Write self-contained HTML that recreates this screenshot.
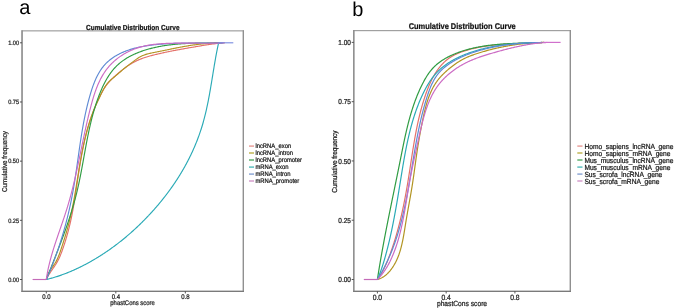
<!DOCTYPE html>
<html><head><meta charset="utf-8"><style>
html,body{margin:0;padding:0;background:#fff;overflow:hidden;}
svg{display:block;will-change:transform;text-rendering:geometricPrecision;}
text{stroke:#222;stroke-width:0.22px;paint-order:stroke;}
.big{stroke:none;}
svg{font-family:"Liberation Sans", sans-serif;}
</style></head><body>
<svg width="675" height="308" viewBox="0 0 675 308">
<rect width="675" height="308" fill="#fff"/>
<text x="0" y="0" font-size="20.00" class="big" fill="#000" transform="translate(19.30,13.90) translate(0,0.00) scale(1,1.000)">a</text>
<text x="0" y="0" font-size="20.00" class="big" fill="#000" transform="translate(352.30,15.70) translate(0,0.00) scale(1,1.000)">b</text>
<path d="M46.30,279.50 L46.66,278.73 L47.04,277.97 L47.43,277.22 L47.84,276.48 L48.26,275.75 L48.68,275.02 L49.12,274.31 L49.57,273.60 L50.02,272.89 L50.49,272.19 L50.95,271.49 L51.42,270.79 L51.89,270.10 L52.37,269.41 L52.84,268.72 L53.31,268.03 L53.78,267.34 L54.25,266.65 L54.72,265.95 L55.17,265.25 L55.62,264.55 L56.07,263.85 L56.50,263.13 L56.92,262.41 L57.33,261.69 L57.73,260.96 L58.12,260.22 L58.50,259.47 L58.86,258.72 L59.22,257.96 L59.56,257.20 L59.90,256.43 L60.23,255.66 L60.55,254.88 L60.86,254.10 L61.17,253.31 L61.47,252.53 L61.76,251.74 L62.05,250.94 L62.34,250.15 L62.62,249.35 L62.90,248.55 L63.17,247.76 L63.44,246.96 L63.71,246.16 L63.98,245.36 L64.24,244.56 L64.50,243.76 L64.76,242.95 L65.02,242.15 L65.27,241.35 L65.52,240.54 L65.76,239.74 L66.01,238.93 L66.25,238.12 L66.49,237.32 L66.72,236.51 L66.95,235.70 L67.18,234.89 L67.41,234.08 L67.64,233.27 L67.86,232.46 L68.07,231.65 L68.29,230.84 L68.50,230.02 L68.71,229.21 L68.92,228.40 L69.13,227.58 L69.33,226.77 L69.53,225.95 L69.72,225.14 L69.92,224.32 L70.11,223.50 L70.30,222.69 L70.48,221.87 L70.66,221.05 L70.84,220.23 L71.02,219.41 L71.20,218.59 L71.37,217.77 L71.54,216.95 L71.71,216.13 L71.87,215.31 L72.04,214.49 L72.20,213.66 L72.36,212.84 L72.51,212.02 L72.67,211.19 L72.82,210.37 L72.97,209.54 L73.12,208.72 L73.27,207.90 L73.42,207.07 L73.56,206.24 L73.70,205.42 L73.84,204.59 L73.98,203.76 L74.12,202.94 L74.26,202.11 L74.39,201.28 L74.53,200.46 L74.66,199.63 L74.79,198.80 L74.92,197.97 L75.05,197.14 L75.18,196.31 L75.31,195.48 L75.44,194.65 L75.56,193.82 L75.69,192.99 L75.81,192.16 L75.94,191.33 L76.06,190.50 L76.19,189.67 L76.31,188.84 L76.43,188.01 L76.56,187.18 L76.68,186.35 L76.80,185.52 L76.92,184.68 L77.04,183.85 L77.16,183.02 L77.29,182.19 L77.41,181.36 L77.53,180.53 L77.65,179.69 L77.78,178.86 L77.90,178.03 L78.02,177.20 L78.15,176.37 L78.27,175.53 L78.40,174.70 L78.52,173.87 L78.65,173.04 L78.78,172.20 L78.90,171.37 L79.03,170.54 L79.16,169.71 L79.29,168.87 L79.42,168.04 L79.56,167.21 L79.69,166.38 L79.83,165.55 L79.96,164.72 L80.10,163.88 L80.24,163.05 L80.38,162.22 L80.52,161.39 L80.66,160.56 L80.81,159.73 L80.95,158.90 L81.10,158.07 L81.25,157.24 L81.40,156.41 L81.55,155.58 L81.70,154.75 L81.86,153.92 L82.02,153.10 L82.17,152.27 L82.33,151.44 L82.50,150.62 L82.66,149.79 L82.83,148.96 L82.99,148.14 L83.16,147.31 L83.34,146.49 L83.51,145.67 L83.68,144.84 L83.86,144.02 L84.04,143.20 L84.23,142.38 L84.41,141.56 L84.60,140.74 L84.79,139.92 L84.98,139.10 L85.17,138.28 L85.37,137.46 L85.57,136.65 L85.77,135.83 L85.97,135.02 L86.18,134.20 L86.39,133.39 L86.60,132.58 L86.81,131.77 L87.03,130.96 L87.25,130.15 L87.47,129.34 L87.70,128.53 L87.92,127.72 L88.16,126.92 L88.39,126.11 L88.63,125.31 L88.87,124.50 L89.11,123.70 L89.36,122.90 L89.60,122.10 L89.86,121.30 L90.11,120.51 L90.37,119.71 L90.63,118.91 L90.90,118.12 L91.17,117.33 L91.44,116.53 L91.72,115.74 L92.00,114.95 L92.28,114.17 L92.57,113.38 L92.85,112.59 L93.15,111.81 L93.45,111.03 L93.75,110.24 L94.05,109.46 L94.36,108.68 L94.67,107.91 L94.99,107.13 L95.31,106.36 L95.63,105.58 L95.96,104.81 L96.29,104.04 L96.63,103.27 L96.97,102.50 L97.31,101.74 L97.66,100.97 L98.01,100.21 L98.37,99.45 L98.73,98.69 L99.09,97.93 L99.46,97.18 L99.84,96.42 L100.21,95.67 L100.60,94.92 L100.98,94.17 L101.38,93.42 L101.77,92.68 L102.18,91.94 L102.59,91.20 L103.01,90.47 L103.43,89.74 L103.86,89.02 L104.31,88.31 L104.76,87.60 L105.22,86.90 L105.69,86.21 L106.17,85.53 L106.66,84.86 L107.17,84.20 L107.68,83.55 L108.21,82.91 L108.76,82.28 L109.31,81.66 L109.88,81.06 L110.45,80.46 L111.04,79.86 L111.63,79.28 L112.23,78.69 L112.83,78.11 L113.44,77.54 L114.06,76.96 L114.68,76.40 L115.31,75.83 L115.94,75.27 L116.58,74.71 L117.21,74.16 L117.85,73.61 L118.50,73.06 L119.14,72.52 L119.79,71.98 L120.44,71.45 L121.10,70.92 L121.75,70.39 L122.41,69.87 L123.07,69.35 L123.74,68.84 L124.41,68.34 L125.08,67.84 L125.75,67.34 L126.43,66.86 L127.11,66.38 L127.80,65.90 L128.49,65.44 L129.18,64.98 L129.88,64.53 L130.59,64.09 L131.30,63.65 L132.01,63.23 L132.73,62.81 L133.45,62.41 L134.18,62.01 L134.92,61.62 L135.66,61.25 L136.40,60.88 L137.16,60.53 L137.92,60.18 L138.68,59.85 L139.45,59.52 L140.22,59.20 L141.00,58.90 L141.79,58.60 L142.58,58.31 L143.37,58.03 L144.17,57.76 L144.97,57.49 L145.77,57.23 L146.57,56.98 L147.38,56.73 L148.20,56.49 L149.01,56.26 L149.83,56.03 L150.64,55.80 L151.46,55.58 L152.28,55.37 L153.11,55.16 L153.93,54.95 L154.75,54.75 L155.57,54.55 L156.40,54.35 L157.22,54.15 L158.04,53.96 L158.87,53.77 L159.69,53.58 L160.51,53.39 L161.33,53.21 L162.15,53.03 L162.98,52.85 L163.80,52.67 L164.62,52.49 L165.44,52.31 L166.26,52.14 L167.08,51.97 L167.90,51.80 L168.72,51.63 L169.54,51.46 L170.36,51.30 L171.18,51.13 L172.00,50.97 L172.82,50.81 L173.64,50.65 L174.46,50.49 L175.28,50.33 L176.10,50.18 L176.92,50.02 L177.74,49.87 L178.56,49.71 L179.38,49.56 L180.21,49.41 L181.03,49.26 L181.85,49.11 L182.67,48.96 L183.49,48.82 L184.32,48.67 L185.14,48.52 L185.96,48.38 L186.79,48.23 L187.61,48.09 L188.44,47.94 L189.26,47.80 L190.09,47.66 L190.91,47.52 L191.74,47.37 L192.56,47.23 L193.39,47.09 L194.22,46.95 L195.05,46.81 L195.88,46.67 L196.71,46.53 L197.54,46.38 L198.37,46.24 L199.20,46.10 L200.03,45.96 L200.86,45.83 L201.70,45.69 L202.53,45.55 L203.36,45.42 L204.20,45.28 L205.03,45.15 L205.86,45.02 L206.70,44.89 L207.53,44.76 L208.37,44.64 L209.20,44.51 L210.04,44.39 L210.87,44.28 L211.70,44.16 L212.54,44.05 L213.37,43.94 L214.20,43.83 L215.04,43.73 L215.87,43.63 L216.70,43.53 L217.54,43.44 L218.37,43.35 L219.20,43.27 L220.03,43.19 L220.86,43.11 L221.69,43.04 L222.52,42.97 L223.35,42.91 L224.17,42.85 L225.00,42.80" fill="none" stroke="#e4716a" stroke-width="1.15" stroke-linejoin="round"/>
<path d="M46.30,279.50 L46.48,278.63 L46.70,277.78 L46.95,276.95 L47.23,276.14 L47.54,275.35 L47.88,274.58 L48.24,273.82 L48.62,273.07 L49.02,272.34 L49.44,271.61 L49.87,270.90 L50.32,270.19 L50.78,269.49 L51.24,268.80 L51.72,268.11 L52.19,267.42 L52.67,266.74 L53.15,266.05 L53.62,265.36 L54.09,264.67 L54.55,263.97 L55.00,263.27 L55.43,262.56 L55.86,261.84 L56.26,261.11 L56.65,260.38 L57.03,259.63 L57.39,258.88 L57.74,258.11 L58.08,257.34 L58.41,256.57 L58.72,255.79 L59.03,255.00 L59.33,254.21 L59.62,253.42 L59.91,252.62 L60.18,251.82 L60.46,251.01 L60.73,250.21 L61.00,249.40 L61.27,248.59 L61.53,247.79 L61.80,246.98 L62.06,246.18 L62.32,245.37 L62.58,244.56 L62.84,243.76 L63.10,242.95 L63.36,242.15 L63.62,241.34 L63.87,240.54 L64.12,239.73 L64.38,238.92 L64.63,238.12 L64.87,237.31 L65.12,236.51 L65.37,235.70 L65.61,234.89 L65.85,234.08 L66.09,233.28 L66.33,232.47 L66.56,231.66 L66.79,230.85 L67.03,230.04 L67.25,229.24 L67.48,228.43 L67.71,227.62 L67.93,226.81 L68.15,226.00 L68.36,225.18 L68.58,224.37 L68.79,223.56 L69.00,222.75 L69.21,221.93 L69.41,221.12 L69.61,220.30 L69.81,219.49 L70.01,218.67 L70.20,217.85 L70.39,217.04 L70.58,216.22 L70.77,215.40 L70.95,214.58 L71.13,213.76 L71.31,212.94 L71.49,212.12 L71.67,211.30 L71.84,210.48 L72.01,209.65 L72.18,208.83 L72.35,208.01 L72.51,207.18 L72.68,206.36 L72.84,205.54 L73.00,204.71 L73.16,203.88 L73.32,203.06 L73.47,202.23 L73.63,201.41 L73.78,200.58 L73.93,199.75 L74.08,198.92 L74.23,198.09 L74.38,197.27 L74.52,196.44 L74.67,195.61 L74.81,194.78 L74.96,193.95 L75.10,193.12 L75.24,192.29 L75.38,191.46 L75.52,190.63 L75.66,189.79 L75.80,188.96 L75.94,188.13 L76.08,187.30 L76.21,186.47 L76.35,185.63 L76.48,184.80 L76.62,183.97 L76.76,183.14 L76.89,182.30 L77.03,181.47 L77.16,180.64 L77.29,179.80 L77.43,178.97 L77.56,178.14 L77.70,177.30 L77.83,176.47 L77.97,175.63 L78.10,174.80 L78.24,173.97 L78.37,173.13 L78.51,172.30 L78.64,171.46 L78.78,170.63 L78.92,169.80 L79.05,168.96 L79.19,168.13 L79.33,167.29 L79.47,166.46 L79.61,165.62 L79.75,164.79 L79.90,163.96 L80.04,163.12 L80.18,162.29 L80.33,161.46 L80.47,160.62 L80.62,159.79 L80.77,158.96 L80.92,158.13 L81.07,157.30 L81.22,156.46 L81.38,155.63 L81.53,154.80 L81.69,153.97 L81.85,153.14 L82.00,152.31 L82.17,151.48 L82.33,150.65 L82.49,149.82 L82.66,149.00 L82.83,148.17 L83.00,147.34 L83.17,146.52 L83.35,145.69 L83.52,144.87 L83.70,144.04 L83.88,143.22 L84.06,142.39 L84.25,141.57 L84.43,140.75 L84.62,139.93 L84.82,139.11 L85.01,138.29 L85.21,137.47 L85.41,136.65 L85.61,135.84 L85.81,135.02 L86.02,134.21 L86.23,133.39 L86.44,132.58 L86.66,131.76 L86.88,130.95 L87.10,130.14 L87.33,129.33 L87.55,128.52 L87.79,127.72 L88.02,126.91 L88.26,126.10 L88.50,125.30 L88.74,124.50 L88.99,123.69 L89.24,122.89 L89.49,122.09 L89.75,121.29 L90.01,120.50 L90.28,119.70 L90.55,118.91 L90.82,118.11 L91.10,117.32 L91.38,116.53 L91.66,115.74 L91.95,114.95 L92.24,114.16 L92.54,113.38 L92.84,112.59 L93.14,111.81 L93.45,111.03 L93.76,110.25 L94.08,109.47 L94.40,108.70 L94.73,107.92 L95.06,107.15 L95.39,106.37 L95.73,105.60 L96.07,104.83 L96.41,104.06 L96.76,103.29 L97.10,102.52 L97.46,101.76 L97.81,100.99 L98.17,100.22 L98.53,99.46 L98.89,98.69 L99.25,97.92 L99.61,97.16 L99.98,96.39 L100.35,95.62 L100.71,94.86 L101.08,94.09 L101.45,93.32 L101.83,92.56 L102.20,91.80 L102.59,91.04 L102.98,90.29 L103.38,89.54 L103.79,88.80 L104.21,88.07 L104.64,87.35 L105.08,86.64 L105.53,85.94 L106.01,85.25 L106.50,84.57 L107.00,83.91 L107.53,83.27 L108.07,82.64 L108.63,82.03 L109.22,81.44 L109.82,80.85 L110.43,80.28 L111.05,79.72 L111.69,79.17 L112.33,78.62 L112.97,78.08 L113.62,77.54 L114.28,77.01 L114.93,76.47 L115.57,75.93 L116.21,75.38 L116.85,74.83 L117.49,74.28 L118.12,73.73 L118.75,73.18 L119.38,72.62 L120.01,72.07 L120.64,71.51 L121.27,70.96 L121.91,70.41 L122.54,69.87 L123.18,69.32 L123.83,68.79 L124.47,68.25 L125.13,67.72 L125.78,67.20 L126.44,66.68 L127.11,66.16 L127.77,65.65 L128.44,65.14 L129.11,64.63 L129.78,64.13 L130.45,63.62 L131.13,63.12 L131.80,62.62 L132.48,62.13 L133.15,61.63 L133.82,61.14 L134.49,60.64 L135.16,60.15 L135.83,59.65 L136.50,59.16 L137.17,58.67 L137.84,58.20 L138.53,57.75 L139.22,57.32 L139.93,56.91 L140.65,56.52 L141.39,56.16 L142.13,55.82 L142.88,55.50 L143.65,55.20 L144.42,54.92 L145.20,54.65 L145.99,54.40 L146.79,54.16 L147.59,53.93 L148.40,53.72 L149.22,53.51 L150.04,53.32 L150.86,53.14 L151.69,52.96 L152.52,52.78 L153.35,52.62 L154.19,52.45 L155.02,52.29 L155.86,52.13 L156.69,51.97 L157.52,51.80 L158.36,51.64 L159.19,51.47 L160.02,51.31 L160.85,51.14 L161.67,50.97 L162.50,50.80 L163.33,50.64 L164.15,50.47 L164.98,50.30 L165.80,50.12 L166.63,49.95 L167.45,49.78 L168.27,49.61 L169.10,49.44 L169.92,49.27 L170.74,49.10 L171.56,48.93 L172.38,48.76 L173.21,48.59 L174.03,48.43 L174.85,48.26 L175.67,48.10 L176.49,47.93 L177.32,47.77 L178.14,47.61 L178.96,47.45 L179.79,47.29 L180.61,47.13 L181.44,46.97 L182.26,46.82 L183.09,46.67 L183.91,46.52 L184.74,46.37 L185.57,46.23 L186.40,46.09 L187.23,45.95 L188.06,45.81 L188.89,45.68 L189.73,45.54 L190.56,45.42 L191.39,45.29 L192.23,45.17 L193.06,45.04 L193.90,44.93 L194.74,44.81 L195.57,44.70 L196.41,44.59 L197.25,44.48 L198.09,44.38 L198.93,44.28 L199.77,44.18 L200.61,44.08 L201.45,43.99 L202.29,43.90 L203.13,43.82 L203.97,43.73 L204.82,43.66 L205.66,43.58 L206.50,43.51 L207.34,43.44 L208.18,43.37 L209.03,43.31 L209.87,43.25 L210.71,43.19 L211.55,43.14 L212.40,43.09 L213.24,43.05 L214.08,43.00 L214.92,42.97 L215.76,42.93 L216.60,42.90 L217.45,42.87 L218.29,42.85 L219.13,42.80" fill="none" stroke="#b29422" stroke-width="1.15" stroke-linejoin="round"/>
<path d="M46.30,279.50 L46.61,278.71 L46.93,277.92 L47.24,277.13 L47.55,276.34 L47.87,275.55 L48.18,274.76 L48.50,273.97 L48.81,273.18 L49.12,272.39 L49.44,271.60 L49.75,270.81 L50.07,270.02 L50.38,269.23 L50.70,268.44 L51.01,267.64 L51.33,266.85 L51.64,266.06 L51.96,265.27 L52.27,264.48 L52.58,263.69 L52.90,262.89 L53.21,262.10 L53.53,261.31 L53.84,260.52 L54.15,259.72 L54.47,258.93 L54.78,258.14 L55.09,257.34 L55.40,256.55 L55.71,255.75 L56.02,254.96 L56.33,254.17 L56.64,253.37 L56.95,252.58 L57.26,251.78 L57.57,250.98 L57.88,250.19 L58.18,249.39 L58.49,248.60 L58.80,247.80 L59.10,247.00 L59.41,246.21 L59.71,245.41 L60.01,244.61 L60.32,243.81 L60.62,243.01 L60.92,242.22 L61.22,241.42 L61.52,240.62 L61.81,239.82 L62.11,239.02 L62.41,238.22 L62.70,237.42 L63.00,236.62 L63.29,235.82 L63.58,235.01 L63.87,234.21 L64.16,233.41 L64.45,232.61 L64.74,231.80 L65.03,231.00 L65.31,230.20 L65.59,229.39 L65.88,228.59 L66.16,227.78 L66.44,226.98 L66.72,226.17 L67.00,225.36 L67.27,224.56 L67.55,223.75 L67.82,222.94 L68.09,222.13 L68.36,221.33 L68.63,220.52 L68.90,219.71 L69.17,218.90 L69.43,218.09 L69.69,217.28 L69.95,216.47 L70.21,215.65 L70.47,214.84 L70.73,214.03 L70.98,213.22 L71.24,212.40 L71.49,211.59 L71.74,210.77 L71.98,209.96 L72.23,209.14 L72.47,208.33 L72.71,207.51 L72.95,206.69 L73.19,205.88 L73.43,205.06 L73.66,204.24 L73.90,203.42 L74.13,202.60 L74.35,201.78 L74.58,200.96 L74.80,200.14 L75.03,199.31 L75.24,198.49 L75.46,197.67 L75.68,196.84 L75.89,196.02 L76.10,195.19 L76.31,194.37 L76.52,193.54 L76.72,192.71 L76.92,191.89 L77.12,191.06 L77.32,190.23 L77.51,189.40 L77.70,188.57 L77.89,187.74 L78.08,186.91 L78.27,186.08 L78.45,185.24 L78.64,184.41 L78.82,183.58 L79.00,182.74 L79.17,181.91 L79.35,181.08 L79.52,180.24 L79.69,179.40 L79.86,178.57 L80.03,177.73 L80.20,176.90 L80.37,176.06 L80.53,175.22 L80.70,174.38 L80.86,173.55 L81.02,172.71 L81.18,171.87 L81.34,171.03 L81.50,170.19 L81.66,169.35 L81.82,168.51 L81.97,167.67 L82.13,166.83 L82.28,165.99 L82.44,165.15 L82.59,164.31 L82.75,163.47 L82.90,162.63 L83.05,161.79 L83.20,160.95 L83.35,160.11 L83.51,159.27 L83.66,158.43 L83.81,157.59 L83.96,156.75 L84.11,155.91 L84.26,155.07 L84.42,154.22 L84.57,153.38 L84.72,152.54 L84.87,151.70 L85.02,150.86 L85.18,150.02 L85.33,149.18 L85.48,148.34 L85.64,147.50 L85.79,146.66 L85.95,145.82 L86.11,144.98 L86.27,144.14 L86.42,143.30 L86.58,142.46 L86.74,141.63 L86.90,140.79 L87.07,139.95 L87.23,139.11 L87.40,138.27 L87.56,137.44 L87.73,136.60 L87.90,135.76 L88.07,134.93 L88.24,134.09 L88.41,133.26 L88.59,132.42 L88.76,131.59 L88.94,130.75 L89.12,129.92 L89.30,129.09 L89.49,128.25 L89.67,127.42 L89.86,126.59 L90.05,125.76 L90.24,124.93 L90.43,124.10 L90.63,123.27 L90.83,122.44 L91.03,121.61 L91.23,120.79 L91.44,119.96 L91.65,119.13 L91.86,118.31 L92.07,117.48 L92.28,116.66 L92.50,115.84 L92.72,115.01 L92.95,114.19 L93.17,113.37 L93.40,112.55 L93.64,111.73 L93.87,110.91 L94.11,110.09 L94.35,109.28 L94.60,108.46 L94.85,107.65 L95.10,106.83 L95.36,106.02 L95.61,105.21 L95.88,104.39 L96.14,103.58 L96.41,102.77 L96.69,101.96 L96.96,101.16 L97.24,100.35 L97.53,99.54 L97.82,98.74 L98.11,97.93 L98.40,97.13 L98.71,96.33 L99.01,95.53 L99.32,94.73 L99.63,93.93 L99.95,93.14 L100.27,92.34 L100.60,91.55 L100.93,90.75 L101.27,89.96 L101.61,89.18 L101.95,88.39 L102.30,87.61 L102.66,86.83 L103.03,86.06 L103.39,85.29 L103.77,84.52 L104.15,83.75 L104.54,82.99 L104.93,82.24 L105.33,81.48 L105.74,80.74 L106.15,80.00 L106.57,79.26 L106.99,78.53 L107.43,77.80 L107.87,77.08 L108.32,76.37 L108.77,75.66 L109.24,74.96 L109.71,74.27 L110.19,73.58 L110.68,72.90 L111.17,72.23 L111.68,71.56 L112.19,70.90 L112.71,70.25 L113.24,69.61 L113.78,68.98 L114.33,68.36 L114.89,67.74 L115.46,67.13 L116.03,66.54 L116.62,65.95 L117.21,65.37 L117.82,64.80 L118.44,64.24 L119.06,63.70 L119.70,63.16 L120.34,62.63 L121.00,62.11 L121.66,61.60 L122.33,61.10 L123.01,60.61 L123.70,60.13 L124.39,59.66 L125.09,59.19 L125.81,58.74 L126.52,58.30 L127.25,57.86 L127.98,57.43 L128.72,57.01 L129.46,56.60 L130.21,56.20 L130.97,55.81 L131.73,55.42 L132.50,55.04 L133.27,54.68 L134.05,54.31 L134.84,53.96 L135.62,53.61 L136.41,53.28 L137.21,52.95 L138.01,52.62 L138.81,52.31 L139.62,52.00 L140.43,51.70 L141.24,51.40 L142.05,51.11 L142.87,50.83 L143.69,50.56 L144.51,50.29 L145.33,50.03 L146.16,49.78 L146.98,49.53 L147.81,49.29 L148.64,49.05 L149.47,48.82 L150.30,48.60 L151.13,48.38 L151.96,48.17 L152.80,47.96 L153.63,47.76 L154.47,47.57 L155.31,47.38 L156.14,47.19 L156.98,47.01 L157.82,46.84 L158.66,46.67 L159.50,46.51 L160.35,46.35 L161.19,46.20 L162.03,46.05 L162.88,45.91 L163.72,45.77 L164.57,45.63 L165.42,45.50 L166.26,45.38 L167.11,45.26 L167.96,45.14 L168.81,45.03 L169.66,44.92 L170.51,44.82 L171.36,44.72 L172.21,44.62 L173.06,44.53 L173.92,44.44 L174.77,44.35 L175.62,44.27 L176.48,44.19 L177.33,44.12 L178.19,44.05 L179.04,43.98 L179.90,43.91 L180.75,43.85 L181.61,43.79 L182.46,43.74 L183.32,43.68 L184.17,43.63 L185.03,43.59 L185.89,43.54 L186.74,43.50 L187.60,43.46 L188.46,43.42 L189.31,43.38 L190.17,43.35 L191.03,43.32 L191.88,43.29 L192.74,43.26 L193.60,43.23 L194.45,43.21 L195.31,43.19 L196.17,43.16 L197.02,43.14 L197.88,43.13 L198.73,43.11 L199.59,43.09 L200.44,43.08 L201.30,43.07 L202.15,43.05 L203.00,43.04 L203.86,43.03 L204.71,43.02 L205.56,43.01 L206.42,43.00 L207.27,43.00 L208.12,42.99 L208.97,42.98 L209.82,42.97 L210.67,42.97 L211.52,42.96 L212.37,42.95 L213.21,42.95 L214.06,42.94 L214.91,42.93 L215.75,42.93 L216.60,42.92 L217.44,42.91 L218.28,42.90 L219.13,42.89 L219.97,42.88 L220.81,42.87 L221.65,42.86 L222.49,42.80" fill="none" stroke="#2f9c42" stroke-width="1.15" stroke-linejoin="round"/>
<path d="M46.30,279.50 L47.06,279.32 L47.82,279.14 L48.58,278.95 L49.34,278.75 L50.09,278.55 L50.85,278.35 L51.60,278.14 L52.35,277.93 L53.10,277.72 L53.85,277.50 L54.60,277.28 L55.34,277.05 L56.09,276.82 L56.83,276.58 L57.57,276.34 L58.31,276.10 L59.05,275.85 L59.79,275.60 L60.52,275.35 L61.26,275.09 L61.99,274.83 L62.72,274.57 L63.45,274.30 L64.18,274.03 L64.91,273.75 L65.63,273.47 L66.36,273.19 L67.08,272.90 L67.80,272.61 L68.52,272.32 L69.24,272.03 L69.96,271.73 L70.68,271.42 L71.39,271.12 L72.11,270.81 L72.82,270.50 L73.53,270.18 L74.24,269.86 L74.95,269.54 L75.66,269.22 L76.37,268.89 L77.07,268.56 L77.78,268.23 L78.48,267.89 L79.18,267.56 L79.88,267.21 L80.58,266.87 L81.28,266.52 L81.98,266.17 L82.68,265.82 L83.37,265.47 L84.06,265.11 L84.76,264.75 L85.45,264.39 L86.14,264.02 L86.83,263.65 L87.51,263.28 L88.20,262.91 L88.88,262.53 L89.57,262.15 L90.25,261.77 L90.93,261.39 L91.61,261.00 L92.29,260.61 L92.97,260.22 L93.64,259.83 L94.32,259.43 L94.99,259.03 L95.66,258.63 L96.33,258.23 L97.00,257.82 L97.67,257.42 L98.34,257.00 L99.00,256.59 L99.66,256.18 L100.33,255.76 L100.99,255.34 L101.65,254.91 L102.31,254.49 L102.96,254.06 L103.62,253.63 L104.28,253.20 L104.93,252.76 L105.58,252.33 L106.23,251.89 L106.88,251.44 L107.53,251.00 L108.17,250.56 L108.82,250.11 L109.46,249.66 L110.10,249.20 L110.74,248.75 L111.38,248.29 L112.02,247.83 L112.66,247.37 L113.29,246.91 L113.93,246.44 L114.56,245.97 L115.19,245.50 L115.82,245.03 L116.45,244.56 L117.07,244.08 L117.70,243.60 L118.32,243.12 L118.94,242.64 L119.56,242.15 L120.18,241.67 L120.80,241.18 L121.41,240.69 L122.03,240.19 L122.64,239.70 L123.25,239.20 L123.86,238.70 L124.47,238.20 L125.08,237.70 L125.68,237.19 L126.29,236.69 L126.89,236.18 L127.49,235.67 L128.09,235.16 L128.69,234.64 L129.28,234.13 L129.88,233.61 L130.47,233.09 L131.06,232.57 L131.65,232.04 L132.24,231.52 L132.83,230.99 L133.41,230.46 L133.99,229.93 L134.58,229.40 L135.16,228.87 L135.73,228.33 L136.31,227.79 L136.89,227.25 L137.46,226.71 L138.03,226.17 L138.60,225.63 L139.17,225.08 L139.74,224.53 L140.30,223.98 L140.87,223.43 L141.43,222.88 L141.99,222.33 L142.55,221.77 L143.11,221.21 L143.66,220.66 L144.22,220.10 L144.77,219.53 L145.32,218.97 L145.87,218.41 L146.41,217.84 L146.96,217.27 L147.50,216.70 L148.04,216.13 L148.59,215.56 L149.12,214.98 L149.66,214.41 L150.20,213.83 L150.73,213.25 L151.26,212.67 L151.79,212.09 L152.32,211.51 L152.84,210.93 L153.37,210.34 L153.89,209.76 L154.41,209.17 L154.93,208.58 L155.45,207.99 L155.96,207.39 L156.48,206.80 L156.99,206.21 L157.50,205.61 L158.01,205.01 L158.51,204.41 L159.02,203.81 L159.52,203.21 L160.02,202.61 L160.52,202.00 L161.01,201.40 L161.51,200.79 L162.00,200.18 L162.49,199.57 L162.98,198.96 L163.47,198.34 L163.95,197.73 L164.44,197.11 L164.92,196.50 L165.40,195.88 L165.87,195.26 L166.35,194.64 L166.82,194.01 L167.29,193.39 L167.76,192.77 L168.23,192.14 L168.69,191.51 L169.15,190.88 L169.62,190.25 L170.07,189.62 L170.53,188.99 L170.98,188.35 L171.44,187.71 L171.89,187.08 L172.33,186.44 L172.78,185.80 L173.22,185.16 L173.67,184.51 L174.10,183.87 L174.54,183.22 L174.98,182.58 L175.41,181.93 L175.84,181.28 L176.27,180.63 L176.69,179.98 L177.12,179.32 L177.54,178.67 L177.96,178.01 L178.38,177.36 L178.79,176.70 L179.20,176.04 L179.61,175.38 L180.02,174.71 L180.43,174.05 L180.83,173.39 L181.23,172.72 L181.63,172.05 L182.03,171.38 L182.42,170.71 L182.81,170.04 L183.20,169.37 L183.59,168.69 L183.97,168.02 L184.36,167.34 L184.74,166.66 L185.11,165.99 L185.49,165.30 L185.86,164.62 L186.23,163.94 L186.60,163.26 L186.96,162.57 L187.33,161.88 L187.69,161.20 L188.04,160.51 L188.40,159.82 L188.75,159.12 L189.10,158.43 L189.45,157.74 L189.80,157.04 L190.14,156.34 L190.48,155.65 L190.82,154.95 L191.15,154.25 L191.48,153.54 L191.81,152.84 L192.14,152.14 L192.47,151.43 L192.79,150.72 L193.11,150.02 L193.43,149.31 L193.74,148.60 L194.05,147.88 L194.36,147.17 L194.67,146.46 L194.97,145.74 L195.27,145.03 L195.57,144.31 L195.87,143.59 L196.16,142.87 L196.45,142.15 L196.74,141.42 L197.02,140.70 L197.30,139.98 L197.58,139.25 L197.86,138.52 L198.13,137.79 L198.40,137.06 L198.67,136.33 L198.94,135.60 L199.20,134.87 L199.46,134.13 L199.72,133.40 L199.97,132.66 L200.22,131.92 L200.47,131.18 L200.72,130.44 L200.96,129.70 L201.20,128.96 L201.44,128.21 L201.67,127.47 L201.90,126.72 L202.13,125.97 L202.36,125.22 L202.58,124.47 L202.80,123.72 L203.02,122.97 L203.23,122.22 L203.44,121.46 L203.65,120.71 L203.85,119.95 L204.06,119.19 L204.26,118.44 L204.46,117.68 L204.65,116.92 L204.84,116.15 L205.03,115.39 L205.22,114.63 L205.41,113.86 L205.59,113.10 L205.77,112.33 L205.95,111.57 L206.13,110.80 L206.30,110.03 L206.48,109.26 L206.65,108.49 L206.82,107.72 L206.98,106.95 L207.15,106.18 L207.31,105.41 L207.47,104.64 L207.63,103.86 L207.79,103.09 L207.95,102.31 L208.10,101.54 L208.26,100.76 L208.41,99.99 L208.56,99.21 L208.71,98.43 L208.85,97.66 L209.00,96.88 L209.14,96.10 L209.29,95.32 L209.43,94.54 L209.57,93.77 L209.71,92.99 L209.85,92.21 L209.99,91.43 L210.12,90.65 L210.26,89.87 L210.40,89.09 L210.53,88.31 L210.66,87.53 L210.80,86.75 L210.93,85.96 L211.06,85.18 L211.19,84.40 L211.32,83.62 L211.45,82.84 L211.58,82.06 L211.71,81.28 L211.84,80.50 L211.97,79.72 L212.09,78.94 L212.22,78.16 L212.35,77.38 L212.48,76.60 L212.60,75.82 L212.73,75.04 L212.86,74.26 L212.98,73.48 L213.11,72.70 L213.24,71.92 L213.36,71.15 L213.49,70.37 L213.62,69.59 L213.75,68.81 L213.88,68.04 L214.01,67.26 L214.13,66.49 L214.26,65.71 L214.39,64.94 L214.53,64.16 L214.66,63.39 L214.79,62.62 L214.92,61.84 L215.05,61.07 L215.19,60.30 L215.32,59.53 L215.46,58.76 L215.60,57.99 L215.73,57.22 L215.87,56.46 L216.01,55.69 L216.15,54.92 L216.30,54.16 L216.44,53.40 L216.58,52.63 L216.73,51.87 L216.88,51.11 L217.03,50.35 L217.18,49.59 L217.33,48.83 L217.48,48.07 L217.64,47.32 L217.79,46.56 L217.95,45.81 L218.11,45.05 L218.27,44.30 L218.43,43.55 L218.60,42.80" fill="none" stroke="#2aaab6" stroke-width="1.15" stroke-linejoin="round"/>
<path d="M46.30,279.50 L46.65,278.70 L47.00,277.89 L47.35,277.09 L47.70,276.28 L48.05,275.48 L48.39,274.67 L48.73,273.87 L49.07,273.06 L49.41,272.25 L49.74,271.44 L50.08,270.63 L50.41,269.82 L50.74,269.00 L51.07,268.19 L51.39,267.38 L51.72,266.56 L52.04,265.75 L52.36,264.93 L52.67,264.12 L52.99,263.30 L53.30,262.48 L53.62,261.66 L53.93,260.84 L54.24,260.02 L54.54,259.20 L54.85,258.38 L55.15,257.56 L55.45,256.73 L55.75,255.91 L56.04,255.08 L56.34,254.26 L56.63,253.43 L56.92,252.61 L57.21,251.78 L57.50,250.95 L57.78,250.12 L58.07,249.29 L58.35,248.46 L58.63,247.63 L58.90,246.80 L59.18,245.97 L59.45,245.14 L59.72,244.31 L59.99,243.47 L60.26,242.64 L60.53,241.80 L60.79,240.97 L61.05,240.13 L61.31,239.29 L61.57,238.46 L61.83,237.62 L62.08,236.78 L62.34,235.94 L62.59,235.10 L62.84,234.26 L63.08,233.42 L63.33,232.58 L63.57,231.74 L63.81,230.90 L64.05,230.06 L64.29,229.21 L64.52,228.37 L64.76,227.53 L64.99,226.68 L65.22,225.84 L65.45,224.99 L65.67,224.14 L65.90,223.30 L66.12,222.45 L66.34,221.60 L66.56,220.76 L66.78,219.91 L66.99,219.06 L67.21,218.21 L67.42,217.36 L67.63,216.51 L67.84,215.66 L68.04,214.81 L68.25,213.96 L68.45,213.10 L68.65,212.25 L68.85,211.40 L69.04,210.55 L69.24,209.69 L69.43,208.84 L69.62,207.99 L69.81,207.13 L70.00,206.28 L70.19,205.42 L70.37,204.56 L70.55,203.71 L70.73,202.85 L70.91,202.00 L71.09,201.14 L71.26,200.28 L71.43,199.42 L71.61,198.57 L71.77,197.71 L71.94,196.85 L72.11,195.99 L72.27,195.13 L72.43,194.27 L72.59,193.41 L72.75,192.55 L72.91,191.69 L73.06,190.83 L73.22,189.97 L73.37,189.11 L73.52,188.25 L73.67,187.39 L73.81,186.52 L73.96,185.66 L74.10,184.80 L74.25,183.94 L74.39,183.07 L74.53,182.21 L74.66,181.35 L74.80,180.48 L74.94,179.62 L75.07,178.76 L75.21,177.89 L75.34,177.03 L75.47,176.16 L75.60,175.30 L75.73,174.44 L75.86,173.57 L75.99,172.71 L76.12,171.84 L76.24,170.98 L76.37,170.11 L76.50,169.25 L76.62,168.38 L76.74,167.51 L76.87,166.65 L76.99,165.78 L77.12,164.92 L77.24,164.05 L77.36,163.18 L77.48,162.32 L77.61,161.45 L77.73,160.58 L77.85,159.72 L77.97,158.85 L78.09,157.99 L78.22,157.12 L78.34,156.25 L78.46,155.39 L78.58,154.52 L78.70,153.65 L78.83,152.79 L78.95,151.92 L79.07,151.05 L79.20,150.19 L79.32,149.32 L79.45,148.45 L79.57,147.58 L79.70,146.72 L79.82,145.85 L79.95,144.98 L80.08,144.12 L80.21,143.25 L80.34,142.39 L80.47,141.52 L80.60,140.65 L80.73,139.79 L80.87,138.92 L81.00,138.05 L81.14,137.19 L81.27,136.32 L81.41,135.46 L81.55,134.59 L81.69,133.72 L81.83,132.86 L81.98,131.99 L82.12,131.13 L82.27,130.26 L82.41,129.40 L82.56,128.53 L82.71,127.67 L82.87,126.80 L83.02,125.94 L83.18,125.08 L83.33,124.21 L83.49,123.35 L83.66,122.48 L83.82,121.62 L83.98,120.76 L84.15,119.89 L84.32,119.03 L84.49,118.17 L84.67,117.31 L84.84,116.44 L85.02,115.58 L85.20,114.72 L85.39,113.86 L85.57,113.00 L85.76,112.14 L85.95,111.28 L86.14,110.42 L86.34,109.56 L86.54,108.70 L86.74,107.84 L86.94,106.98 L87.15,106.12 L87.36,105.26 L87.57,104.40 L87.78,103.54 L88.00,102.68 L88.22,101.83 L88.45,100.97 L88.68,100.11 L88.91,99.26 L89.14,98.40 L89.38,97.54 L89.62,96.69 L89.86,95.83 L90.11,94.98 L90.36,94.13 L90.61,93.27 L90.87,92.42 L91.13,91.57 L91.40,90.72 L91.67,89.87 L91.94,89.02 L92.23,88.18 L92.51,87.34 L92.80,86.50 L93.10,85.66 L93.41,84.83 L93.72,84.00 L94.03,83.18 L94.36,82.36 L94.69,81.54 L95.03,80.73 L95.37,79.93 L95.72,79.12 L96.09,78.33 L96.46,77.54 L96.83,76.76 L97.22,75.98 L97.62,75.21 L98.02,74.45 L98.44,73.70 L98.86,72.95 L99.30,72.21 L99.74,71.48 L100.20,70.76 L100.66,70.05 L101.14,69.34 L101.63,68.65 L102.13,67.96 L102.64,67.29 L103.17,66.62 L103.70,65.97 L104.25,65.32 L104.81,64.69 L105.39,64.07 L105.97,63.46 L106.57,62.86 L107.19,62.27 L107.81,61.70 L108.45,61.14 L109.10,60.58 L109.76,60.04 L110.43,59.51 L111.11,58.99 L111.80,58.48 L112.50,57.99 L113.21,57.50 L113.93,57.02 L114.66,56.56 L115.40,56.10 L116.15,55.66 L116.90,55.23 L117.67,54.80 L118.43,54.39 L119.21,53.99 L119.99,53.60 L120.78,53.21 L121.58,52.84 L122.38,52.48 L123.19,52.13 L124.00,51.79 L124.82,51.45 L125.64,51.13 L126.46,50.82 L127.29,50.51 L128.12,50.22 L128.96,49.93 L129.80,49.66 L130.64,49.39 L131.49,49.13 L132.34,48.88 L133.19,48.63 L134.05,48.40 L134.91,48.17 L135.77,47.95 L136.63,47.74 L137.50,47.53 L138.37,47.34 L139.24,47.15 L140.11,46.96 L140.98,46.79 L141.86,46.61 L142.74,46.45 L143.61,46.29 L144.49,46.14 L145.37,45.99 L146.26,45.85 L147.14,45.72 L148.02,45.59 L148.90,45.46 L149.79,45.34 L150.67,45.22 L151.56,45.11 L152.44,45.01 L153.32,44.90 L154.21,44.80 L155.09,44.71 L155.97,44.62 L156.86,44.53 L157.74,44.44 L158.62,44.36 L159.50,44.29 L160.38,44.21 L161.25,44.14 L162.13,44.07 L163.01,44.00 L163.88,43.94 L164.76,43.88 L165.63,43.82 L166.50,43.77 L167.38,43.71 L168.25,43.66 L169.12,43.62 L169.99,43.57 L170.86,43.53 L171.73,43.49 L172.60,43.45 L173.47,43.41 L174.34,43.38 L175.21,43.35 L176.08,43.32 L176.95,43.29 L177.82,43.26 L178.68,43.24 L179.55,43.22 L180.42,43.20 L181.28,43.18 L182.15,43.16 L183.02,43.14 L183.88,43.13 L184.75,43.11 L185.62,43.10 L186.48,43.09 L187.35,43.08 L188.22,43.07 L189.08,43.06 L189.95,43.05 L190.82,43.05 L191.68,43.04 L192.55,43.03 L193.42,43.03 L194.29,43.03 L195.15,43.02 L196.02,43.02 L196.89,43.02 L197.76,43.02 L198.63,43.02 L199.50,43.01 L200.37,43.01 L201.24,43.01 L202.11,43.01 L202.98,43.01 L203.85,43.01 L204.72,43.01 L205.60,43.01 L206.47,43.01 L207.34,43.00 L208.22,43.00 L209.09,43.00 L209.97,43.00 L210.85,42.99 L211.72,42.99 L212.60,42.98 L213.48,42.98 L214.36,42.97 L215.24,42.96 L216.13,42.95 L217.01,42.94 L217.89,42.93 L218.78,42.92 L219.66,42.91 L220.55,42.89 L221.44,42.88 L222.33,42.86 L223.22,42.80" fill="none" stroke="#5f8ad4" stroke-width="1.15" stroke-linejoin="round"/>
<path d="M46.30,279.50 L46.42,278.65 L46.54,277.80 L46.67,276.95 L46.81,276.10 L46.95,275.25 L47.10,274.40 L47.25,273.55 L47.40,272.71 L47.56,271.86 L47.73,271.02 L47.90,270.17 L48.07,269.33 L48.25,268.49 L48.44,267.65 L48.62,266.81 L48.82,265.97 L49.01,265.13 L49.21,264.29 L49.42,263.45 L49.62,262.61 L49.83,261.77 L50.05,260.94 L50.27,260.10 L50.49,259.26 L50.71,258.43 L50.94,257.59 L51.18,256.76 L51.41,255.93 L51.65,255.09 L51.89,254.26 L52.13,253.43 L52.38,252.60 L52.63,251.77 L52.88,250.94 L53.13,250.10 L53.39,249.27 L53.65,248.44 L53.91,247.62 L54.17,246.79 L54.43,245.96 L54.70,245.13 L54.97,244.30 L55.24,243.47 L55.51,242.65 L55.78,241.82 L56.06,240.99 L56.33,240.17 L56.61,239.34 L56.89,238.51 L57.17,237.69 L57.45,236.86 L57.73,236.04 L58.01,235.21 L58.29,234.38 L58.57,233.56 L58.86,232.73 L59.14,231.91 L59.43,231.08 L59.71,230.26 L60.00,229.43 L60.28,228.61 L60.56,227.79 L60.85,226.96 L61.13,226.14 L61.42,225.31 L61.70,224.49 L61.98,223.66 L62.27,222.84 L62.55,222.01 L62.83,221.19 L63.11,220.36 L63.39,219.54 L63.67,218.71 L63.94,217.89 L64.22,217.06 L64.49,216.24 L64.77,215.41 L65.04,214.59 L65.31,213.76 L65.58,212.93 L65.84,212.11 L66.11,211.28 L66.37,210.46 L66.63,209.63 L66.89,208.80 L67.14,207.97 L67.40,207.15 L67.65,206.32 L67.90,205.49 L68.14,204.66 L68.39,203.83 L68.63,203.00 L68.87,202.17 L69.11,201.34 L69.35,200.51 L69.58,199.68 L69.81,198.85 L70.04,198.02 L70.27,197.19 L70.50,196.36 L70.72,195.53 L70.94,194.69 L71.16,193.86 L71.38,193.03 L71.60,192.20 L71.81,191.36 L72.03,190.53 L72.24,189.70 L72.45,188.86 L72.66,188.03 L72.87,187.19 L73.07,186.36 L73.28,185.52 L73.48,184.69 L73.68,183.85 L73.88,183.02 L74.08,182.18 L74.28,181.34 L74.48,180.51 L74.67,179.67 L74.86,178.83 L75.06,178.00 L75.25,177.16 L75.44,176.32 L75.63,175.48 L75.82,174.64 L76.01,173.80 L76.19,172.96 L76.38,172.13 L76.56,171.29 L76.75,170.45 L76.93,169.61 L77.11,168.77 L77.30,167.93 L77.48,167.08 L77.66,166.24 L77.84,165.40 L78.02,164.56 L78.20,163.72 L78.37,162.88 L78.55,162.03 L78.73,161.19 L78.91,160.35 L79.08,159.51 L79.26,158.66 L79.44,157.82 L79.61,156.98 L79.79,156.13 L79.96,155.29 L80.14,154.44 L80.31,153.60 L80.49,152.75 L80.66,151.91 L80.84,151.06 L81.01,150.22 L81.18,149.37 L81.36,148.53 L81.53,147.68 L81.71,146.83 L81.89,145.99 L82.06,145.14 L82.24,144.29 L82.41,143.45 L82.59,142.60 L82.77,141.75 L82.94,140.90 L83.12,140.05 L83.30,139.20 L83.48,138.36 L83.65,137.51 L83.83,136.66 L84.01,135.81 L84.20,134.96 L84.38,134.11 L84.56,133.26 L84.74,132.41 L84.93,131.56 L85.11,130.71 L85.29,129.86 L85.48,129.01 L85.67,128.15 L85.86,127.30 L86.04,126.45 L86.23,125.60 L86.43,124.75 L86.62,123.89 L86.81,123.04 L87.01,122.19 L87.20,121.34 L87.40,120.48 L87.60,119.63 L87.80,118.78 L88.00,117.92 L88.20,117.07 L88.40,116.21 L88.61,115.36 L88.81,114.51 L89.02,113.65 L89.23,112.80 L89.44,111.94 L89.65,111.09 L89.87,110.23 L90.08,109.37 L90.30,108.52 L90.52,107.66 L90.74,106.81 L90.97,105.95 L91.19,105.10 L91.42,104.24 L91.65,103.39 L91.89,102.54 L92.12,101.68 L92.36,100.83 L92.61,99.98 L92.85,99.13 L93.10,98.29 L93.36,97.44 L93.62,96.60 L93.88,95.76 L94.15,94.92 L94.42,94.09 L94.70,93.25 L94.98,92.42 L95.26,91.59 L95.56,90.77 L95.85,89.95 L96.16,89.13 L96.46,88.31 L96.78,87.50 L97.10,86.70 L97.42,85.89 L97.76,85.09 L98.09,84.30 L98.44,83.51 L98.79,82.72 L99.15,81.94 L99.52,81.16 L99.89,80.39 L100.27,79.62 L100.66,78.86 L101.06,78.11 L101.47,77.36 L101.88,76.61 L102.30,75.87 L102.73,75.14 L103.17,74.41 L103.62,73.69 L104.07,72.98 L104.54,72.27 L105.01,71.57 L105.50,70.88 L105.99,70.20 L106.50,69.52 L107.01,68.85 L107.54,68.18 L108.07,67.53 L108.61,66.88 L109.17,66.24 L109.73,65.61 L110.31,64.98 L110.89,64.37 L111.48,63.76 L112.08,63.16 L112.70,62.57 L113.31,61.99 L113.94,61.41 L114.58,60.85 L115.22,60.29 L115.88,59.74 L116.54,59.20 L117.21,58.67 L117.88,58.14 L118.57,57.63 L119.26,57.13 L119.96,56.63 L120.67,56.14 L121.38,55.66 L122.10,55.20 L122.82,54.74 L123.56,54.29 L124.30,53.85 L125.04,53.42 L125.79,52.99 L126.55,52.58 L127.31,52.18 L128.08,51.79 L128.85,51.40 L129.63,51.03 L130.41,50.67 L131.20,50.32 L131.99,49.97 L132.79,49.64 L133.59,49.32 L134.40,49.01 L135.21,48.70 L136.02,48.41 L136.84,48.13 L137.66,47.86 L138.49,47.60 L139.31,47.35 L140.14,47.11 L140.98,46.88 L141.82,46.66 L142.66,46.44 L143.50,46.24 L144.35,46.04 L145.19,45.86 L146.05,45.68 L146.90,45.51 L147.76,45.35 L148.61,45.19 L149.47,45.04 L150.34,44.90 L151.20,44.77 L152.07,44.65 L152.93,44.53 L153.80,44.42 L154.67,44.31 L155.55,44.21 L156.42,44.12 L157.30,44.03 L158.17,43.95 L159.05,43.87 L159.93,43.80 L160.81,43.73 L161.68,43.67 L162.56,43.61 L163.44,43.56 L164.33,43.51 L165.21,43.47 L166.09,43.42 L166.97,43.39 L167.85,43.35 L168.73,43.32 L169.61,43.30 L170.49,43.27 L171.37,43.25 L172.25,43.23 L173.13,43.21 L174.01,43.20 L174.88,43.18 L175.76,43.17 L176.63,43.16 L177.51,43.15 L178.38,43.14 L179.25,43.14 L180.12,43.13 L180.99,43.13 L181.86,43.13 L182.73,43.13 L183.60,43.13 L184.47,43.13 L185.33,43.13 L186.20,43.13 L187.06,43.13 L187.93,43.14 L188.79,43.14 L189.66,43.14 L190.52,43.15 L191.38,43.15 L192.24,43.16 L193.10,43.16 L193.97,43.17 L194.83,43.17 L195.69,43.18 L196.55,43.18 L197.41,43.19 L198.27,43.19 L199.13,43.20 L199.99,43.20 L200.85,43.21 L201.71,43.21 L202.57,43.21 L203.43,43.21 L204.29,43.21 L205.14,43.21 L206.00,43.21 L206.86,43.21 L207.72,43.21 L208.58,43.20 L209.44,43.20 L210.30,43.19 L211.16,43.18 L212.03,43.17 L212.89,43.16 L213.75,43.15 L214.61,43.13 L215.47,43.12 L216.34,43.10 L217.20,43.08 L218.06,43.06 L218.93,43.03 L219.79,43.01 L220.66,42.98 L221.53,42.95 L222.39,42.91 L223.26,42.88 L224.13,42.80" fill="none" stroke="#cc6cc4" stroke-width="1.15" stroke-linejoin="round"/>
<line x1="32.60" y1="279.50" x2="46.30" y2="279.50" stroke="#c46ab8" stroke-width="1.15"/>
<line x1="218.50" y1="42.80" x2="233.30" y2="42.80" stroke="#7b8ee0" stroke-width="1.15"/>
<rect x="22.05" y="30.85" width="221.30" height="260.50" fill="none" stroke="#a0a0a0" stroke-width="1.2"/>
<line x1="243.35" y1="30.25" x2="243.35" y2="291.95" stroke="#909090" stroke-width="1.2"/>
<line x1="22.05" y1="30.25" x2="22.05" y2="291.95" stroke="#8a8a8a" stroke-width="1.25"/>
<line x1="21.45" y1="291.35" x2="243.95" y2="291.35" stroke="#7a7a7a" stroke-width="1.25"/>
<line x1="19.95" y1="279.50" x2="22.05" y2="279.50" stroke="#444" stroke-width="0.9"/>
<text x="0" y="0" font-size="5.60" text-anchor="end" fill="#222" transform="translate(19.10,281.52) translate(0,0.24) scale(1,1.120)">0.00</text>
<line x1="19.95" y1="220.32" x2="22.05" y2="220.32" stroke="#444" stroke-width="0.9"/>
<text x="0" y="0" font-size="5.60" text-anchor="end" fill="#222" transform="translate(19.10,222.34) translate(0,0.24) scale(1,1.120)">0.25</text>
<line x1="19.95" y1="161.15" x2="22.05" y2="161.15" stroke="#444" stroke-width="0.9"/>
<text x="0" y="0" font-size="5.60" text-anchor="end" fill="#222" transform="translate(19.10,163.17) translate(0,0.24) scale(1,1.120)">0.50</text>
<line x1="19.95" y1="101.98" x2="22.05" y2="101.98" stroke="#444" stroke-width="0.9"/>
<text x="0" y="0" font-size="5.60" text-anchor="end" fill="#222" transform="translate(19.10,103.99) translate(0,0.24) scale(1,1.120)">0.75</text>
<line x1="19.95" y1="42.80" x2="22.05" y2="42.80" stroke="#444" stroke-width="0.9"/>
<text x="0" y="0" font-size="5.60" text-anchor="end" fill="#222" transform="translate(19.10,44.82) translate(0,0.24) scale(1,1.120)">1.00</text>
<line x1="46.30" y1="291.35" x2="46.30" y2="293.45" stroke="#444" stroke-width="0.9"/>
<text x="0" y="0" font-size="6.00" text-anchor="middle" fill="#222" transform="translate(46.30,299.00) translate(0,0.26) scale(1,1.120)">0.0</text>
<line x1="115.82" y1="291.35" x2="115.82" y2="293.45" stroke="#444" stroke-width="0.9"/>
<text x="0" y="0" font-size="6.00" text-anchor="middle" fill="#222" transform="translate(115.82,299.00) translate(0,0.26) scale(1,1.120)">0.4</text>
<line x1="185.34" y1="291.35" x2="185.34" y2="293.45" stroke="#444" stroke-width="0.9"/>
<text x="0" y="0" font-size="6.00" text-anchor="middle" fill="#222" transform="translate(185.34,299.00) translate(0,0.26) scale(1,1.120)">0.8</text>
<text x="0" y="0" font-size="6.50" text-anchor="middle" font-weight="bold" fill="#111" transform="translate(132.75,29.30) translate(0,0.28) scale(1,1.120)">Cumulative Distribution Curve</text>
<text x="0" y="0" font-size="5.95" text-anchor="middle" fill="#222" transform="translate(132.60,305.00) translate(0,0.26) scale(1,1.120)">phastCons score</text>
<text x="0" y="0" font-size="6.30" text-anchor="middle" fill="#222" transform="translate(7.00,161.50) rotate(-90) translate(0,0.27) scale(1,1.120)">Cumulative frequency</text>
<path d="M377.40,279.50 L377.91,278.82 L378.41,278.13 L378.89,277.44 L379.37,276.74 L379.83,276.04 L380.29,275.33 L380.73,274.62 L381.17,273.91 L381.60,273.19 L382.01,272.46 L382.42,271.73 L382.82,271.00 L383.21,270.27 L383.60,269.53 L383.97,268.78 L384.34,268.04 L384.71,267.29 L385.06,266.53 L385.41,265.78 L385.76,265.02 L386.09,264.26 L386.42,263.50 L386.75,262.73 L387.07,261.96 L387.39,261.19 L387.70,260.42 L388.01,259.64 L388.32,258.87 L388.62,258.09 L388.92,257.31 L389.21,256.53 L389.51,255.75 L389.80,254.97 L390.09,254.19 L390.37,253.40 L390.65,252.62 L390.94,251.83 L391.21,251.05 L391.49,250.26 L391.76,249.47 L392.03,248.68 L392.30,247.89 L392.57,247.10 L392.83,246.30 L393.10,245.51 L393.36,244.72 L393.61,243.92 L393.87,243.12 L394.12,242.33 L394.37,241.53 L394.62,240.73 L394.87,239.93 L395.11,239.13 L395.35,238.33 L395.59,237.53 L395.83,236.73 L396.07,235.92 L396.30,235.12 L396.53,234.31 L396.76,233.51 L396.99,232.70 L397.22,231.89 L397.44,231.09 L397.66,230.28 L397.88,229.47 L398.10,228.66 L398.31,227.85 L398.53,227.04 L398.74,226.22 L398.95,225.41 L399.16,224.60 L399.37,223.79 L399.57,222.97 L399.78,222.16 L399.98,221.34 L400.18,220.52 L400.37,219.71 L400.57,218.89 L400.76,218.07 L400.96,217.26 L401.15,216.44 L401.34,215.62 L401.53,214.80 L401.71,213.98 L401.90,213.16 L402.08,212.34 L402.26,211.52 L402.44,210.69 L402.62,209.87 L402.80,209.05 L402.97,208.23 L403.15,207.40 L403.32,206.58 L403.49,205.76 L403.66,204.93 L403.83,204.11 L404.00,203.28 L404.16,202.46 L404.33,201.63 L404.49,200.80 L404.65,199.98 L404.81,199.15 L404.97,198.33 L405.13,197.50 L405.28,196.67 L405.44,195.84 L405.59,195.02 L405.75,194.19 L405.90,193.36 L406.05,192.53 L406.20,191.70 L406.35,190.88 L406.49,190.05 L406.64,189.22 L406.78,188.39 L406.93,187.56 L407.07,186.73 L407.21,185.90 L407.36,185.07 L407.50,184.24 L407.63,183.41 L407.77,182.58 L407.91,181.76 L408.05,180.93 L408.18,180.10 L408.32,179.27 L408.45,178.44 L408.58,177.61 L408.71,176.78 L408.85,175.95 L408.98,175.12 L409.11,174.29 L409.24,173.46 L409.37,172.63 L409.49,171.80 L409.62,170.97 L409.75,170.14 L409.88,169.32 L410.00,168.49 L410.13,167.66 L410.26,166.83 L410.38,166.00 L410.51,165.17 L410.64,164.34 L410.76,163.51 L410.89,162.69 L411.02,161.86 L411.14,161.03 L411.27,160.20 L411.39,159.37 L411.52,158.54 L411.65,157.72 L411.78,156.89 L411.90,156.06 L412.03,155.23 L412.16,154.41 L412.29,153.58 L412.42,152.75 L412.55,151.92 L412.68,151.10 L412.81,150.27 L412.94,149.44 L413.07,148.62 L413.21,147.79 L413.34,146.97 L413.48,146.14 L413.61,145.31 L413.75,144.49 L413.89,143.66 L414.03,142.84 L414.17,142.01 L414.31,141.19 L414.45,140.36 L414.59,139.54 L414.74,138.71 L414.88,137.89 L415.03,137.07 L415.18,136.24 L415.33,135.42 L415.48,134.60 L415.64,133.77 L415.79,132.95 L415.95,132.13 L416.10,131.31 L416.26,130.48 L416.43,129.66 L416.59,128.84 L416.75,128.02 L416.92,127.20 L417.09,126.38 L417.26,125.56 L417.43,124.74 L417.61,123.92 L417.78,123.10 L417.96,122.28 L418.14,121.46 L418.33,120.64 L418.51,119.82 L418.70,119.00 L418.89,118.18 L419.08,117.37 L419.28,116.55 L419.48,115.73 L419.68,114.92 L419.88,114.10 L420.08,113.28 L420.29,112.47 L420.50,111.65 L420.71,110.84 L420.93,110.02 L421.15,109.21 L421.37,108.39 L421.59,107.58 L421.82,106.77 L422.05,105.95 L422.29,105.14 L422.52,104.33 L422.76,103.52 L423.00,102.71 L423.25,101.89 L423.50,101.08 L423.75,100.27 L424.01,99.46 L424.27,98.65 L424.53,97.84 L424.80,97.04 L425.06,96.23 L425.34,95.42 L425.61,94.61 L425.90,93.81 L426.18,93.00 L426.47,92.20 L426.76,91.40 L427.06,90.60 L427.36,89.80 L427.67,89.00 L427.98,88.21 L428.30,87.42 L428.62,86.63 L428.94,85.85 L429.28,85.07 L429.61,84.29 L429.96,83.51 L430.30,82.74 L430.66,81.98 L431.02,81.21 L431.38,80.46 L431.75,79.70 L432.13,78.95 L432.52,78.21 L432.91,77.47 L433.31,76.74 L433.71,76.01 L434.12,75.29 L434.54,74.58 L434.96,73.87 L435.40,73.17 L435.84,72.47 L436.28,71.78 L436.74,71.10 L437.20,70.43 L437.67,69.76 L438.15,69.10 L438.64,68.45 L439.13,67.81 L439.64,67.17 L440.15,66.54 L440.67,65.93 L441.20,65.32 L441.73,64.72 L442.28,64.13 L442.84,63.55 L443.40,62.98 L443.98,62.42 L444.56,61.86 L445.15,61.32 L445.76,60.79 L446.37,60.27 L446.99,59.77 L447.63,59.27 L448.27,58.78 L448.93,58.31 L449.59,57.85 L450.26,57.40 L450.95,56.96 L451.65,56.53 L452.35,56.11 L453.07,55.71 L453.79,55.32 L454.52,54.93 L455.26,54.56 L456.01,54.20 L456.77,53.85 L457.53,53.51 L458.30,53.17 L459.08,52.85 L459.87,52.54 L460.66,52.23 L461.46,51.94 L462.26,51.65 L463.07,51.37 L463.88,51.10 L464.69,50.84 L465.52,50.58 L466.34,50.34 L467.17,50.10 L468.00,49.86 L468.84,49.64 L469.67,49.42 L470.51,49.20 L471.35,48.99 L472.20,48.79 L473.04,48.60 L473.89,48.41 L474.73,48.22 L475.58,48.04 L476.42,47.87 L477.27,47.70 L478.11,47.53 L478.96,47.37 L479.80,47.21 L480.64,47.06 L481.49,46.91 L482.33,46.77 L483.17,46.63 L484.01,46.49 L484.85,46.36 L485.69,46.23 L486.53,46.10 L487.37,45.98 L488.21,45.86 L489.05,45.75 L489.89,45.64 L490.73,45.53 L491.57,45.43 L492.41,45.33 L493.24,45.23 L494.08,45.14 L494.92,45.04 L495.75,44.96 L496.59,44.87 L497.42,44.79 L498.26,44.71 L499.10,44.63 L499.93,44.56 L500.77,44.48 L501.60,44.41 L502.43,44.35 L503.27,44.28 L504.10,44.22 L504.94,44.16 L505.77,44.10 L506.60,44.04 L507.44,43.99 L508.27,43.94 L509.10,43.89 L509.94,43.84 L510.77,43.79 L511.60,43.74 L512.44,43.70 L513.27,43.66 L514.10,43.61 L514.94,43.57 L515.77,43.54 L516.60,43.50 L517.43,43.46 L518.27,43.43 L519.10,43.39 L519.93,43.36 L520.77,43.32 L521.60,43.29 L522.43,43.26 L523.27,43.23 L524.10,43.20 L524.93,43.17 L525.77,43.14 L526.60,43.11 L527.43,43.08 L528.27,43.05 L529.10,43.02 L529.94,43.00 L530.77,42.97 L531.61,42.94 L532.44,42.91 L533.28,42.88 L534.11,42.85 L534.95,42.82 L535.78,42.79 L536.62,42.76 L537.46,42.73 L538.29,42.69 L539.13,42.66 L539.97,42.63 L540.81,42.59 L541.64,42.55 L542.48,42.52 L543.32,42.48 L544.16,42.40" fill="none" stroke="#e4716a" stroke-width="1.20" stroke-linejoin="round"/>
<path d="M377.40,279.50 L378.24,279.24 L379.06,278.96 L379.86,278.65 L380.64,278.31 L381.40,277.94 L382.14,277.55 L382.86,277.13 L383.56,276.69 L384.25,276.23 L384.92,275.74 L385.57,275.24 L386.20,274.72 L386.82,274.18 L387.42,273.62 L388.01,273.04 L388.58,272.46 L389.13,271.85 L389.67,271.24 L390.20,270.61 L390.71,269.97 L391.21,269.32 L391.70,268.66 L392.17,268.00 L392.63,267.33 L393.08,266.65 L393.52,265.96 L393.94,265.27 L394.35,264.57 L394.75,263.86 L395.14,263.15 L395.52,262.44 L395.89,261.71 L396.25,260.98 L396.60,260.25 L396.94,259.51 L397.27,258.77 L397.59,258.02 L397.90,257.26 L398.20,256.50 L398.49,255.74 L398.78,254.97 L399.05,254.19 L399.32,253.42 L399.58,252.63 L399.83,251.85 L400.08,251.06 L400.31,250.26 L400.55,249.47 L400.77,248.67 L400.99,247.86 L401.20,247.06 L401.41,246.25 L401.61,245.44 L401.80,244.62 L401.99,243.80 L402.17,242.98 L402.35,242.16 L402.53,241.34 L402.70,240.51 L402.87,239.68 L403.03,238.85 L403.19,238.02 L403.34,237.19 L403.50,236.36 L403.65,235.52 L403.79,234.68 L403.94,233.85 L404.08,233.01 L404.22,232.17 L404.36,231.34 L404.50,230.50 L404.63,229.66 L404.77,228.82 L404.90,227.98 L405.04,227.14 L405.17,226.31 L405.30,225.47 L405.44,224.64 L405.57,223.80 L405.70,222.97 L405.84,222.13 L405.98,221.30 L406.11,220.47 L406.25,219.65 L406.39,218.82 L406.53,217.99 L406.67,217.17 L406.81,216.34 L406.96,215.52 L407.10,214.70 L407.24,213.88 L407.39,213.06 L407.53,212.24 L407.68,211.42 L407.83,210.61 L407.97,209.79 L408.12,208.98 L408.26,208.16 L408.41,207.35 L408.56,206.53 L408.71,205.72 L408.85,204.91 L409.00,204.10 L409.15,203.28 L409.29,202.47 L409.44,201.66 L409.59,200.85 L409.73,200.04 L409.88,199.23 L410.02,198.42 L410.17,197.61 L410.31,196.80 L410.45,195.99 L410.60,195.18 L410.74,194.36 L410.88,193.55 L411.02,192.74 L411.16,191.93 L411.30,191.12 L411.43,190.31 L411.57,189.49 L411.70,188.68 L411.84,187.87 L411.97,187.05 L412.10,186.24 L412.23,185.42 L412.36,184.60 L412.49,183.79 L412.61,182.97 L412.74,182.15 L412.86,181.33 L412.98,180.51 L413.10,179.69 L413.22,178.87 L413.34,178.05 L413.46,177.23 L413.58,176.41 L413.70,175.58 L413.81,174.76 L413.93,173.94 L414.04,173.12 L414.16,172.29 L414.27,171.47 L414.39,170.65 L414.50,169.82 L414.62,169.00 L414.73,168.17 L414.84,167.35 L414.95,166.53 L415.07,165.70 L415.18,164.88 L415.29,164.05 L415.41,163.23 L415.52,162.41 L415.64,161.58 L415.75,160.76 L415.86,159.94 L415.98,159.11 L416.09,158.29 L416.21,157.47 L416.33,156.65 L416.45,155.83 L416.56,155.01 L416.68,154.19 L416.80,153.37 L416.92,152.55 L417.05,151.73 L417.17,150.91 L417.29,150.09 L417.42,149.27 L417.54,148.46 L417.67,147.64 L417.80,146.83 L417.93,146.01 L418.06,145.20 L418.19,144.38 L418.33,143.57 L418.46,142.75 L418.60,141.94 L418.73,141.13 L418.87,140.32 L419.01,139.50 L419.15,138.69 L419.29,137.88 L419.44,137.07 L419.58,136.25 L419.73,135.44 L419.87,134.63 L420.02,133.82 L420.17,133.00 L420.32,132.19 L420.47,131.38 L420.62,130.57 L420.78,129.75 L420.93,128.94 L421.09,128.12 L421.25,127.31 L421.40,126.50 L421.56,125.68 L421.72,124.86 L421.89,124.05 L422.05,123.23 L422.21,122.41 L422.38,121.59 L422.55,120.78 L422.72,119.96 L422.89,119.14 L423.06,118.32 L423.23,117.49 L423.40,116.67 L423.58,115.85 L423.76,115.03 L423.94,114.21 L424.13,113.39 L424.32,112.57 L424.51,111.75 L424.70,110.94 L424.90,110.12 L425.10,109.30 L425.31,108.49 L425.52,107.68 L425.73,106.87 L425.95,106.06 L426.18,105.25 L426.41,104.44 L426.64,103.64 L426.88,102.84 L427.12,102.04 L427.37,101.25 L427.63,100.46 L427.89,99.67 L428.16,98.88 L428.43,98.10 L428.71,97.32 L429.00,96.54 L429.30,95.77 L429.60,95.00 L429.91,94.23 L430.22,93.47 L430.55,92.71 L430.88,91.96 L431.22,91.21 L431.57,90.47 L431.93,89.73 L432.29,89.00 L432.67,88.27 L433.05,87.55 L433.45,86.83 L433.85,86.12 L434.26,85.41 L434.69,84.71 L435.12,84.02 L435.56,83.33 L436.01,82.65 L436.48,81.97 L436.95,81.30 L437.44,80.64 L437.93,79.99 L438.44,79.34 L438.96,78.70 L439.49,78.06 L440.04,77.44 L440.59,76.82 L441.15,76.20 L441.72,75.60 L442.30,75.00 L442.89,74.40 L443.49,73.82 L444.09,73.23 L444.70,72.66 L445.31,72.09 L445.93,71.52 L446.55,70.96 L447.17,70.40 L447.80,69.85 L448.44,69.31 L449.07,68.77 L449.71,68.24 L450.36,67.71 L451.01,67.19 L451.66,66.68 L452.32,66.17 L452.98,65.67 L453.65,65.17 L454.32,64.68 L454.99,64.20 L455.67,63.73 L456.35,63.26 L457.04,62.80 L457.73,62.35 L458.43,61.91 L459.13,61.47 L459.84,61.04 L460.55,60.62 L461.26,60.21 L461.98,59.81 L462.70,59.42 L463.43,59.03 L464.17,58.65 L464.90,58.29 L465.65,57.93 L466.40,57.58 L467.15,57.24 L467.91,56.91 L468.67,56.59 L469.43,56.28 L470.20,55.97 L470.97,55.67 L471.75,55.38 L472.53,55.10 L473.31,54.82 L474.09,54.54 L474.88,54.27 L475.67,54.01 L476.46,53.74 L477.25,53.49 L478.04,53.23 L478.83,52.98 L479.62,52.73 L480.42,52.48 L481.21,52.24 L482.01,52.00 L482.80,51.76 L483.60,51.53 L484.40,51.30 L485.20,51.07 L486.00,50.84 L486.80,50.62 L487.60,50.40 L488.40,50.19 L489.20,49.97 L490.01,49.76 L490.81,49.56 L491.62,49.35 L492.42,49.15 L493.23,48.95 L494.04,48.76 L494.84,48.56 L495.65,48.38 L496.46,48.19 L497.27,48.01 L498.08,47.83 L498.90,47.65 L499.71,47.47 L500.52,47.30 L501.33,47.13 L502.15,46.97 L502.96,46.81 L503.78,46.65 L504.59,46.49 L505.41,46.34 L506.23,46.19 L507.04,46.04 L507.86,45.89 L508.68,45.75 L509.50,45.61 L510.32,45.48 L511.14,45.34 L511.96,45.21 L512.78,45.09 L513.60,44.96 L514.42,44.84 L515.24,44.72 L516.06,44.61 L516.89,44.50 L517.71,44.39 L518.53,44.28 L519.36,44.18 L520.18,44.07 L521.01,43.98 L521.83,43.88 L522.66,43.79 L523.48,43.70 L524.31,43.61 L525.13,43.53 L525.96,43.45 L526.78,43.37 L527.61,43.30 L528.44,43.23 L529.26,43.16 L530.09,43.09 L530.92,43.03 L531.75,42.97 L532.57,42.91 L533.40,42.86 L534.23,42.81 L535.06,42.76 L535.89,42.71 L536.71,42.67 L537.54,42.63 L538.37,42.59 L539.20,42.56 L540.03,42.53 L540.86,42.50 L541.69,42.47 L542.51,42.45 L543.34,42.40" fill="none" stroke="#b29422" stroke-width="1.20" stroke-linejoin="round"/>
<path d="M377.40,279.50 L377.53,278.66 L377.66,277.82 L377.79,276.98 L377.92,276.14 L378.05,275.30 L378.18,274.46 L378.31,273.62 L378.45,272.78 L378.58,271.95 L378.72,271.11 L378.85,270.27 L378.99,269.43 L379.13,268.59 L379.26,267.76 L379.40,266.92 L379.54,266.08 L379.68,265.25 L379.82,264.41 L379.96,263.57 L380.10,262.74 L380.25,261.90 L380.39,261.06 L380.53,260.23 L380.68,259.39 L380.82,258.56 L380.97,257.72 L381.11,256.89 L381.26,256.05 L381.41,255.22 L381.56,254.39 L381.70,253.55 L381.85,252.72 L382.00,251.88 L382.15,251.05 L382.30,250.22 L382.45,249.38 L382.60,248.55 L382.76,247.72 L382.91,246.88 L383.06,246.05 L383.22,245.22 L383.37,244.39 L383.53,243.55 L383.68,242.72 L383.84,241.89 L383.99,241.06 L384.15,240.23 L384.31,239.39 L384.46,238.56 L384.62,237.73 L384.78,236.90 L384.94,236.07 L385.10,235.24 L385.26,234.41 L385.42,233.57 L385.58,232.74 L385.74,231.91 L385.90,231.08 L386.06,230.25 L386.22,229.42 L386.38,228.59 L386.54,227.76 L386.71,226.93 L386.87,226.10 L387.03,225.27 L387.20,224.44 L387.36,223.61 L387.53,222.78 L387.69,221.95 L387.86,221.12 L388.02,220.29 L388.19,219.46 L388.35,218.63 L388.52,217.80 L388.68,216.97 L388.85,216.14 L389.02,215.32 L389.19,214.49 L389.35,213.66 L389.52,212.83 L389.69,212.00 L389.86,211.17 L390.02,210.34 L390.19,209.51 L390.36,208.68 L390.53,207.85 L390.70,207.02 L390.87,206.19 L391.04,205.37 L391.21,204.54 L391.37,203.71 L391.54,202.88 L391.71,202.05 L391.88,201.22 L392.05,200.39 L392.22,199.56 L392.39,198.73 L392.56,197.90 L392.73,197.08 L392.90,196.25 L393.08,195.42 L393.25,194.59 L393.42,193.76 L393.59,192.93 L393.76,192.10 L393.93,191.27 L394.10,190.44 L394.27,189.61 L394.44,188.78 L394.61,187.95 L394.78,187.12 L394.95,186.30 L395.12,185.47 L395.29,184.64 L395.47,183.81 L395.64,182.98 L395.81,182.15 L395.98,181.32 L396.15,180.49 L396.32,179.66 L396.49,178.83 L396.66,178.00 L396.83,177.17 L397.00,176.34 L397.17,175.51 L397.34,174.68 L397.51,173.84 L397.68,173.01 L397.85,172.18 L398.02,171.35 L398.19,170.52 L398.36,169.69 L398.53,168.86 L398.69,168.03 L398.86,167.20 L399.03,166.37 L399.20,165.53 L399.37,164.70 L399.54,163.87 L399.70,163.04 L399.87,162.21 L400.04,161.37 L400.21,160.54 L400.37,159.71 L400.54,158.88 L400.71,158.04 L400.87,157.21 L401.04,156.38 L401.21,155.54 L401.37,154.71 L401.54,153.88 L401.70,153.04 L401.87,152.21 L402.04,151.38 L402.21,150.55 L402.37,149.71 L402.54,148.88 L402.71,148.05 L402.88,147.22 L403.05,146.38 L403.22,145.55 L403.39,144.72 L403.57,143.89 L403.74,143.05 L403.91,142.22 L404.09,141.39 L404.26,140.56 L404.44,139.73 L404.62,138.90 L404.80,138.07 L404.98,137.24 L405.16,136.41 L405.34,135.58 L405.53,134.75 L405.71,133.93 L405.90,133.10 L406.09,132.27 L406.28,131.45 L406.47,130.62 L406.66,129.79 L406.86,128.97 L407.06,128.14 L407.26,127.32 L407.46,126.50 L407.66,125.67 L407.87,124.85 L408.07,124.03 L408.28,123.21 L408.49,122.39 L408.71,121.57 L408.92,120.75 L409.14,119.93 L409.36,119.12 L409.59,118.30 L409.81,117.49 L410.04,116.67 L410.27,115.86 L410.51,115.04 L410.74,114.23 L410.98,113.42 L411.22,112.61 L411.47,111.80 L411.72,110.99 L411.97,110.18 L412.22,109.38 L412.48,108.57 L412.74,107.77 L413.01,106.96 L413.27,106.16 L413.54,105.36 L413.82,104.56 L414.09,103.76 L414.38,102.96 L414.66,102.17 L414.95,101.37 L415.24,100.57 L415.54,99.78 L415.84,98.99 L416.14,98.20 L416.45,97.41 L416.76,96.62 L417.07,95.83 L417.39,95.05 L417.71,94.26 L418.04,93.48 L418.37,92.70 L418.71,91.92 L419.05,91.14 L419.39,90.36 L419.74,89.59 L420.10,88.81 L420.46,88.04 L420.82,87.27 L421.19,86.50 L421.56,85.73 L421.94,84.96 L422.32,84.20 L422.70,83.43 L423.10,82.67 L423.50,81.91 L423.90,81.16 L424.31,80.41 L424.73,79.66 L425.15,78.92 L425.58,78.18 L426.02,77.45 L426.46,76.73 L426.91,76.01 L427.37,75.29 L427.84,74.59 L428.32,73.89 L428.81,73.20 L429.30,72.51 L429.80,71.84 L430.32,71.17 L430.84,70.52 L431.37,69.87 L431.91,69.24 L432.47,68.61 L433.03,68.00 L433.61,67.39 L434.19,66.80 L434.79,66.22 L435.39,65.65 L436.01,65.10 L436.63,64.55 L437.27,64.01 L437.91,63.49 L438.57,62.97 L439.23,62.46 L439.90,61.97 L440.57,61.48 L441.26,61.01 L441.95,60.54 L442.65,60.08 L443.36,59.64 L444.08,59.20 L444.80,58.77 L445.52,58.35 L446.26,57.94 L446.99,57.53 L447.74,57.14 L448.49,56.75 L449.24,56.37 L450.00,56.00 L450.76,55.64 L451.53,55.28 L452.30,54.93 L453.08,54.59 L453.85,54.26 L454.63,53.93 L455.42,53.61 L456.20,53.30 L456.99,52.99 L457.78,52.69 L458.57,52.40 L459.37,52.11 L460.16,51.83 L460.96,51.55 L461.76,51.29 L462.56,51.02 L463.37,50.77 L464.18,50.51 L464.98,50.27 L465.79,50.03 L466.61,49.80 L467.42,49.57 L468.23,49.34 L469.05,49.13 L469.87,48.91 L470.69,48.71 L471.51,48.51 L472.34,48.31 L473.16,48.12 L473.99,47.93 L474.82,47.75 L475.64,47.57 L476.48,47.40 L477.31,47.24 L478.14,47.07 L478.98,46.91 L479.81,46.76 L480.65,46.61 L481.49,46.47 L482.33,46.33 L483.17,46.19 L484.01,46.06 L484.85,45.93 L485.69,45.80 L486.54,45.68 L487.38,45.57 L488.23,45.45 L489.07,45.34 L489.92,45.24 L490.77,45.13 L491.62,45.04 L492.47,44.94 L493.32,44.85 L494.17,44.76 L495.02,44.67 L495.88,44.59 L496.73,44.51 L497.58,44.43 L498.43,44.36 L499.29,44.28 L500.14,44.22 L501.00,44.15 L501.85,44.09 L502.71,44.02 L503.56,43.96 L504.42,43.91 L505.27,43.85 L506.13,43.80 L506.99,43.75 L507.84,43.70 L508.70,43.65 L509.55,43.61 L510.41,43.57 L511.27,43.53 L512.12,43.49 L512.98,43.45 L513.83,43.41 L514.69,43.38 L515.54,43.34 L516.40,43.31 L517.25,43.28 L518.10,43.25 L518.96,43.22 L519.81,43.19 L520.66,43.16 L521.51,43.13 L522.37,43.11 L523.22,43.08 L524.07,43.06 L524.91,43.03 L525.76,43.01 L526.61,42.99 L527.46,42.96 L528.30,42.94 L529.15,42.92 L529.99,42.89 L530.84,42.87 L531.68,42.85 L532.52,42.82 L533.36,42.80 L534.20,42.77 L535.04,42.75 L535.88,42.73 L536.71,42.70 L537.55,42.67 L538.38,42.65 L539.21,42.62 L540.04,42.59 L540.87,42.56 L541.70,42.53 L542.53,42.50 L543.35,42.47 L544.18,42.40" fill="none" stroke="#2f9c42" stroke-width="1.20" stroke-linejoin="round"/>
<path d="M377.40,279.50 L377.73,278.73 L378.06,277.96 L378.39,277.19 L378.70,276.42 L379.01,275.64 L379.32,274.86 L379.62,274.08 L379.92,273.30 L380.21,272.52 L380.50,271.74 L380.78,270.95 L381.06,270.16 L381.34,269.38 L381.61,268.59 L381.88,267.80 L382.14,267.00 L382.40,266.21 L382.65,265.42 L382.91,264.62 L383.15,263.83 L383.40,263.03 L383.64,262.23 L383.88,261.43 L384.12,260.63 L384.35,259.83 L384.59,259.03 L384.82,258.23 L385.04,257.43 L385.27,256.63 L385.49,255.83 L385.71,255.03 L385.93,254.22 L386.15,253.42 L386.36,252.62 L386.58,251.81 L386.79,251.01 L387.00,250.21 L387.21,249.40 L387.41,248.60 L387.62,247.79 L387.82,246.99 L388.02,246.18 L388.22,245.37 L388.42,244.57 L388.62,243.76 L388.81,242.95 L389.00,242.15 L389.20,241.34 L389.39,240.53 L389.57,239.72 L389.76,238.92 L389.95,238.11 L390.13,237.30 L390.31,236.49 L390.49,235.68 L390.67,234.87 L390.85,234.06 L391.03,233.25 L391.21,232.44 L391.38,231.63 L391.55,230.82 L391.72,230.01 L391.89,229.20 L392.06,228.38 L392.23,227.57 L392.40,226.76 L392.56,225.95 L392.73,225.13 L392.89,224.32 L393.05,223.51 L393.22,222.69 L393.38,221.88 L393.53,221.06 L393.69,220.25 L393.85,219.44 L394.01,218.62 L394.16,217.81 L394.31,216.99 L394.47,216.17 L394.62,215.36 L394.77,214.54 L394.92,213.73 L395.07,212.91 L395.22,212.09 L395.37,211.28 L395.51,210.46 L395.66,209.64 L395.81,208.82 L395.95,208.00 L396.10,207.19 L396.24,206.37 L396.38,205.55 L396.53,204.73 L396.67,203.91 L396.81,203.09 L396.95,202.27 L397.09,201.45 L397.23,200.63 L397.37,199.81 L397.51,198.99 L397.64,198.17 L397.78,197.35 L397.92,196.53 L398.05,195.71 L398.19,194.89 L398.33,194.06 L398.46,193.24 L398.60,192.42 L398.73,191.60 L398.87,190.77 L399.00,189.95 L399.14,189.13 L399.27,188.30 L399.40,187.48 L399.54,186.66 L399.67,185.83 L399.80,185.01 L399.94,184.19 L400.07,183.36 L400.20,182.54 L400.34,181.71 L400.47,180.89 L400.60,180.06 L400.74,179.24 L400.87,178.41 L401.00,177.58 L401.14,176.76 L401.27,175.93 L401.40,175.11 L401.54,174.28 L401.67,173.45 L401.81,172.63 L401.94,171.80 L402.08,170.98 L402.21,170.15 L402.35,169.32 L402.48,168.50 L402.62,167.67 L402.76,166.84 L402.90,166.02 L403.04,165.19 L403.18,164.37 L403.32,163.54 L403.46,162.71 L403.60,161.89 L403.74,161.06 L403.89,160.24 L404.03,159.41 L404.18,158.59 L404.33,157.76 L404.47,156.94 L404.62,156.11 L404.77,155.29 L404.93,154.47 L405.08,153.64 L405.23,152.82 L405.39,152.00 L405.54,151.18 L405.70,150.35 L405.86,149.53 L406.02,148.71 L406.19,147.89 L406.35,147.07 L406.51,146.25 L406.68,145.43 L406.85,144.61 L407.02,143.79 L407.19,142.98 L407.37,142.16 L407.54,141.34 L407.72,140.53 L407.90,139.71 L408.08,138.89 L408.27,138.08 L408.45,137.27 L408.64,136.45 L408.83,135.64 L409.02,134.83 L409.21,134.02 L409.41,133.21 L409.61,132.40 L409.81,131.59 L410.01,130.78 L410.22,129.97 L410.42,129.17 L410.63,128.36 L410.85,127.56 L411.06,126.75 L411.28,125.95 L411.50,125.14 L411.72,124.34 L411.95,123.54 L412.17,122.74 L412.41,121.94 L412.64,121.15 L412.88,120.35 L413.11,119.55 L413.36,118.76 L413.60,117.96 L413.85,117.17 L414.10,116.38 L414.36,115.59 L414.61,114.80 L414.87,114.01 L415.14,113.22 L415.40,112.44 L415.67,111.65 L415.95,110.87 L416.22,110.08 L416.50,109.30 L416.79,108.52 L417.07,107.74 L417.36,106.96 L417.66,106.19 L417.96,105.41 L418.26,104.63 L418.56,103.86 L418.87,103.09 L419.18,102.32 L419.50,101.55 L419.82,100.78 L420.14,100.02 L420.47,99.25 L420.80,98.49 L421.14,97.73 L421.48,96.96 L421.82,96.20 L422.17,95.45 L422.52,94.69 L422.87,93.94 L423.23,93.19 L423.60,92.44 L423.97,91.69 L424.35,90.95 L424.73,90.20 L425.11,89.47 L425.50,88.73 L425.90,88.00 L426.30,87.27 L426.71,86.55 L427.12,85.83 L427.54,85.11 L427.97,84.40 L428.40,83.69 L428.83,82.99 L429.28,82.29 L429.73,81.60 L430.19,80.91 L430.65,80.23 L431.12,79.56 L431.60,78.89 L432.09,78.22 L432.58,77.56 L433.08,76.91 L433.59,76.26 L434.11,75.63 L434.63,74.99 L435.16,74.37 L435.70,73.75 L436.25,73.14 L436.81,72.54 L437.37,71.94 L437.95,71.35 L438.53,70.77 L439.12,70.20 L439.72,69.64 L440.33,69.08 L440.94,68.54 L441.57,68.00 L442.20,67.46 L442.84,66.94 L443.48,66.42 L444.13,65.92 L444.80,65.42 L445.46,64.92 L446.14,64.44 L446.82,63.96 L447.51,63.50 L448.20,63.04 L448.90,62.58 L449.61,62.14 L450.32,61.70 L451.04,61.27 L451.76,60.84 L452.49,60.43 L453.22,60.02 L453.96,59.62 L454.70,59.22 L455.45,58.83 L456.20,58.45 L456.95,58.07 L457.71,57.70 L458.48,57.34 L459.24,56.98 L460.01,56.63 L460.78,56.29 L461.55,55.95 L462.33,55.62 L463.11,55.29 L463.89,54.97 L464.67,54.65 L465.46,54.34 L466.24,54.04 L467.03,53.74 L467.82,53.44 L468.61,53.15 L469.40,52.87 L470.19,52.59 L470.99,52.31 L471.78,52.04 L472.57,51.78 L473.37,51.52 L474.17,51.27 L474.97,51.02 L475.77,50.77 L476.57,50.53 L477.37,50.29 L478.17,50.06 L478.98,49.84 L479.78,49.61 L480.59,49.40 L481.39,49.18 L482.20,48.97 L483.01,48.77 L483.82,48.57 L484.63,48.37 L485.44,48.18 L486.25,47.99 L487.07,47.81 L487.88,47.63 L488.69,47.46 L489.51,47.28 L490.32,47.12 L491.14,46.95 L491.96,46.79 L492.78,46.64 L493.59,46.48 L494.41,46.33 L495.23,46.19 L496.05,46.05 L496.88,45.91 L497.70,45.78 L498.52,45.64 L499.34,45.52 L500.17,45.39 L500.99,45.27 L501.82,45.15 L502.64,45.04 L503.47,44.93 L504.29,44.82 L505.12,44.72 L505.95,44.61 L506.77,44.51 L507.60,44.42 L508.43,44.32 L509.26,44.23 L510.09,44.15 L510.92,44.06 L511.75,43.98 L512.58,43.90 L513.41,43.82 L514.24,43.75 L515.07,43.68 L515.90,43.61 L516.73,43.54 L517.56,43.48 L518.39,43.42 L519.22,43.36 L520.06,43.30 L520.89,43.24 L521.72,43.19 L522.55,43.14 L523.38,43.09 L524.22,43.04 L525.05,43.00 L525.88,42.96 L526.71,42.92 L527.55,42.88 L528.38,42.84 L529.21,42.80 L530.04,42.77 L530.88,42.74 L531.71,42.71 L532.54,42.68 L533.37,42.65 L534.20,42.62 L535.04,42.60 L535.87,42.58 L536.70,42.55 L537.53,42.53 L538.36,42.52 L539.19,42.50 L540.02,42.48 L540.85,42.46 L541.68,42.40" fill="none" stroke="#2aaab6" stroke-width="1.20" stroke-linejoin="round"/>
<path d="M377.40,279.50 L377.85,278.78 L378.29,278.06 L378.73,277.33 L379.17,276.61 L379.60,275.88 L380.03,275.16 L380.46,274.43 L380.88,273.70 L381.29,272.97 L381.70,272.23 L382.11,271.50 L382.51,270.77 L382.91,270.03 L383.31,269.29 L383.70,268.55 L384.09,267.81 L384.47,267.07 L384.85,266.33 L385.22,265.58 L385.60,264.84 L385.96,264.09 L386.33,263.35 L386.69,262.60 L387.05,261.85 L387.40,261.10 L387.75,260.35 L388.09,259.59 L388.44,258.84 L388.78,258.08 L389.11,257.33 L389.44,256.57 L389.77,255.81 L390.10,255.05 L390.42,254.29 L390.74,253.53 L391.05,252.77 L391.36,252.00 L391.67,251.24 L391.97,250.47 L392.28,249.70 L392.57,248.94 L392.87,248.17 L393.16,247.40 L393.45,246.63 L393.74,245.86 L394.02,245.08 L394.30,244.31 L394.58,243.53 L394.85,242.76 L395.12,241.98 L395.39,241.21 L395.66,240.43 L395.92,239.65 L396.18,238.87 L396.44,238.09 L396.69,237.31 L396.94,236.52 L397.19,235.74 L397.44,234.95 L397.68,234.17 L397.93,233.38 L398.17,232.60 L398.40,231.81 L398.64,231.02 L398.87,230.23 L399.10,229.44 L399.32,228.65 L399.55,227.86 L399.77,227.07 L399.99,226.28 L400.21,225.48 L400.42,224.69 L400.64,223.89 L400.85,223.10 L401.06,222.30 L401.26,221.51 L401.47,220.71 L401.67,219.91 L401.87,219.11 L402.07,218.31 L402.27,217.51 L402.46,216.71 L402.65,215.91 L402.84,215.11 L403.03,214.31 L403.22,213.50 L403.41,212.70 L403.59,211.89 L403.77,211.09 L403.95,210.28 L404.13,209.48 L404.31,208.67 L404.48,207.87 L404.66,207.06 L404.83,206.25 L405.00,205.44 L405.17,204.63 L405.34,203.82 L405.51,203.01 L405.67,202.20 L405.84,201.39 L406.00,200.58 L406.16,199.77 L406.32,198.96 L406.48,198.15 L406.64,197.34 L406.80,196.52 L406.95,195.71 L407.11,194.90 L407.26,194.08 L407.41,193.27 L407.56,192.45 L407.71,191.64 L407.86,190.82 L408.01,190.01 L408.16,189.19 L408.31,188.37 L408.45,187.56 L408.60,186.74 L408.74,185.92 L408.89,185.11 L409.03,184.29 L409.17,183.47 L409.32,182.65 L409.46,181.84 L409.60,181.02 L409.74,180.20 L409.88,179.38 L410.02,178.56 L410.16,177.74 L410.30,176.92 L410.43,176.10 L410.57,175.29 L410.71,174.47 L410.85,173.65 L410.98,172.83 L411.12,172.01 L411.26,171.19 L411.39,170.37 L411.53,169.55 L411.67,168.73 L411.80,167.91 L411.94,167.09 L412.07,166.27 L412.21,165.45 L412.35,164.63 L412.48,163.81 L412.62,162.98 L412.76,162.16 L412.89,161.34 L413.03,160.52 L413.17,159.70 L413.30,158.88 L413.44,158.06 L413.58,157.24 L413.72,156.42 L413.86,155.60 L414.00,154.79 L414.13,153.97 L414.27,153.15 L414.42,152.33 L414.56,151.51 L414.70,150.69 L414.84,149.87 L414.98,149.05 L415.13,148.23 L415.27,147.41 L415.42,146.60 L415.56,145.78 L415.71,144.96 L415.86,144.14 L416.00,143.33 L416.15,142.51 L416.30,141.69 L416.45,140.88 L416.61,140.06 L416.76,139.24 L416.91,138.43 L417.07,137.61 L417.23,136.80 L417.38,135.98 L417.54,135.17 L417.70,134.36 L417.86,133.54 L418.02,132.73 L418.19,131.92 L418.35,131.10 L418.52,130.29 L418.69,129.48 L418.85,128.67 L419.02,127.86 L419.20,127.05 L419.37,126.24 L419.54,125.43 L419.72,124.62 L419.90,123.81 L420.08,123.00 L420.26,122.19 L420.44,121.39 L420.63,120.58 L420.81,119.77 L421.00,118.97 L421.19,118.16 L421.38,117.36 L421.58,116.55 L421.77,115.75 L421.97,114.95 L422.17,114.15 L422.37,113.34 L422.58,112.54 L422.78,111.74 L422.99,110.94 L423.20,110.14 L423.41,109.34 L423.62,108.55 L423.84,107.75 L424.06,106.95 L424.28,106.16 L424.50,105.36 L424.73,104.56 L424.96,103.77 L425.19,102.98 L425.42,102.18 L425.65,101.39 L425.89,100.60 L426.13,99.81 L426.37,99.02 L426.62,98.23 L426.87,97.44 L427.12,96.66 L427.37,95.87 L427.63,95.09 L427.89,94.30 L428.15,93.52 L428.42,92.74 L428.69,91.96 L428.97,91.19 L429.25,90.41 L429.54,89.64 L429.83,88.88 L430.13,88.11 L430.44,87.35 L430.75,86.60 L431.08,85.85 L431.40,85.10 L431.74,84.36 L432.09,83.62 L432.44,82.89 L432.80,82.16 L433.18,81.44 L433.56,80.73 L433.95,80.02 L434.35,79.32 L434.77,78.62 L435.19,77.93 L435.63,77.25 L436.07,76.58 L436.53,75.92 L437.01,75.26 L437.49,74.61 L437.99,73.97 L438.50,73.34 L439.03,72.72 L439.57,72.10 L440.12,71.50 L440.69,70.91 L441.27,70.32 L441.86,69.75 L442.47,69.18 L443.09,68.62 L443.71,68.08 L444.35,67.54 L445.00,67.01 L445.65,66.49 L446.31,65.98 L446.98,65.47 L447.66,64.98 L448.34,64.49 L449.03,64.01 L449.72,63.54 L450.42,63.08 L451.13,62.63 L451.84,62.18 L452.55,61.74 L453.27,61.31 L454.00,60.89 L454.73,60.47 L455.46,60.06 L456.20,59.66 L456.94,59.27 L457.69,58.88 L458.44,58.50 L459.19,58.13 L459.95,57.76 L460.71,57.40 L461.48,57.05 L462.25,56.70 L463.02,56.36 L463.79,56.02 L464.57,55.70 L465.35,55.37 L466.13,55.06 L466.91,54.75 L467.70,54.44 L468.48,54.14 L469.27,53.85 L470.07,53.56 L470.86,53.27 L471.65,52.99 L472.45,52.72 L473.24,52.45 L474.04,52.19 L474.84,51.93 L475.64,51.68 L476.44,51.43 L477.24,51.18 L478.03,50.94 L478.83,50.70 L479.63,50.47 L480.43,50.24 L481.23,50.02 L482.03,49.80 L482.84,49.58 L483.64,49.37 L484.44,49.16 L485.24,48.96 L486.04,48.76 L486.84,48.56 L487.64,48.37 L488.45,48.18 L489.25,47.99 L490.05,47.81 L490.85,47.64 L491.66,47.46 L492.46,47.29 L493.27,47.13 L494.07,46.96 L494.88,46.80 L495.68,46.65 L496.49,46.50 L497.29,46.35 L498.10,46.20 L498.91,46.06 L499.71,45.92 L500.52,45.79 L501.33,45.66 L502.14,45.53 L502.95,45.40 L503.76,45.28 L504.57,45.16 L505.38,45.04 L506.19,44.93 L507.00,44.82 L507.81,44.71 L508.62,44.61 L509.43,44.51 L510.25,44.41 L511.06,44.32 L511.88,44.22 L512.69,44.13 L513.51,44.05 L514.32,43.96 L515.14,43.88 L515.96,43.80 L516.77,43.72 L517.59,43.65 L518.41,43.58 L519.23,43.51 L520.05,43.44 L520.87,43.38 L521.69,43.32 L522.52,43.26 L523.34,43.20 L524.16,43.14 L524.99,43.09 L525.81,43.04 L526.64,42.99 L527.46,42.95 L528.29,42.90 L529.12,42.86 L529.95,42.82 L530.78,42.78 L531.61,42.75 L532.44,42.71 L533.27,42.68 L534.10,42.65 L534.94,42.62 L535.77,42.59 L536.61,42.57 L537.44,42.54 L538.28,42.52 L539.11,42.50 L539.95,42.48 L540.79,42.46 L541.63,42.40" fill="none" stroke="#5f8ad4" stroke-width="1.20" stroke-linejoin="round"/>
<path d="M377.40,279.50 L377.99,278.90 L378.57,278.30 L379.14,277.69 L379.69,277.07 L380.24,276.45 L380.78,275.82 L381.30,275.19 L381.82,274.54 L382.33,273.90 L382.82,273.25 L383.31,272.59 L383.79,271.93 L384.26,271.26 L384.72,270.59 L385.17,269.91 L385.61,269.23 L386.05,268.54 L386.47,267.85 L386.89,267.16 L387.30,266.46 L387.70,265.75 L388.10,265.05 L388.49,264.34 L388.87,263.62 L389.25,262.90 L389.61,262.18 L389.98,261.46 L390.33,260.73 L390.68,260.00 L391.03,259.26 L391.36,258.53 L391.70,257.79 L392.02,257.05 L392.35,256.30 L392.66,255.56 L392.98,254.81 L393.29,254.06 L393.59,253.31 L393.89,252.55 L394.18,251.80 L394.47,251.04 L394.76,250.28 L395.04,249.52 L395.31,248.75 L395.58,247.99 L395.85,247.22 L396.12,246.45 L396.38,245.68 L396.63,244.91 L396.88,244.13 L397.13,243.36 L397.38,242.58 L397.62,241.80 L397.85,241.02 L398.09,240.23 L398.32,239.45 L398.54,238.66 L398.76,237.88 L398.98,237.09 L399.20,236.30 L399.41,235.51 L399.62,234.72 L399.83,233.92 L400.03,233.13 L400.23,232.33 L400.43,231.54 L400.63,230.74 L400.82,229.94 L401.01,229.14 L401.19,228.34 L401.38,227.53 L401.56,226.73 L401.74,225.93 L401.92,225.12 L402.09,224.31 L402.26,223.51 L402.43,222.70 L402.60,221.89 L402.77,221.08 L402.93,220.27 L403.09,219.46 L403.25,218.65 L403.41,217.84 L403.57,217.03 L403.72,216.21 L403.88,215.40 L404.03,214.59 L404.18,213.77 L404.33,212.96 L404.47,212.14 L404.62,211.33 L404.76,210.51 L404.91,209.70 L405.05,208.88 L405.19,208.06 L405.33,207.25 L405.47,206.43 L405.61,205.61 L405.75,204.80 L405.89,203.98 L406.02,203.16 L406.16,202.35 L406.30,201.53 L406.43,200.71 L406.57,199.90 L406.70,199.08 L406.84,198.26 L406.97,197.45 L407.10,196.63 L407.24,195.82 L407.37,195.00 L407.51,194.19 L407.64,193.37 L407.78,192.56 L407.91,191.74 L408.05,190.93 L408.18,190.12 L408.32,189.31 L408.45,188.50 L408.59,187.69 L408.73,186.88 L408.87,186.07 L409.01,185.26 L409.15,184.45 L409.29,183.64 L409.43,182.84 L409.57,182.03 L409.72,181.23 L409.86,180.42 L410.01,179.62 L410.15,178.82 L410.30,178.02 L410.45,177.22 L410.61,176.42 L410.76,175.62 L410.91,174.83 L411.07,174.03 L411.22,173.23 L411.38,172.44 L411.54,171.64 L411.70,170.85 L411.86,170.06 L412.02,169.26 L412.18,168.47 L412.34,167.68 L412.51,166.89 L412.67,166.09 L412.83,165.30 L413.00,164.51 L413.17,163.72 L413.34,162.93 L413.50,162.14 L413.67,161.35 L413.84,160.56 L414.01,159.76 L414.18,158.97 L414.35,158.18 L414.53,157.39 L414.70,156.60 L414.87,155.81 L415.04,155.02 L415.22,154.22 L415.39,153.43 L415.57,152.64 L415.74,151.84 L415.92,151.05 L416.09,150.25 L416.27,149.46 L416.44,148.66 L416.62,147.87 L416.80,147.07 L416.97,146.27 L417.15,145.47 L417.33,144.67 L417.50,143.87 L417.68,143.07 L417.86,142.27 L418.03,141.46 L418.21,140.66 L418.39,139.85 L418.56,139.05 L418.74,138.24 L418.92,137.43 L419.10,136.62 L419.27,135.81 L419.45,135.00 L419.63,134.19 L419.81,133.38 L419.99,132.56 L420.17,131.75 L420.36,130.94 L420.54,130.13 L420.72,129.31 L420.91,128.50 L421.10,127.69 L421.29,126.87 L421.48,126.06 L421.68,125.25 L421.87,124.44 L422.07,123.63 L422.27,122.82 L422.48,122.01 L422.68,121.21 L422.89,120.40 L423.10,119.59 L423.32,118.79 L423.54,117.99 L423.76,117.19 L423.98,116.39 L424.21,115.59 L424.44,114.79 L424.68,114.00 L424.92,113.21 L425.16,112.42 L425.41,111.63 L425.66,110.84 L425.91,110.06 L426.17,109.28 L426.44,108.50 L426.71,107.72 L426.98,106.95 L427.26,106.18 L427.54,105.41 L427.83,104.65 L428.13,103.88 L428.43,103.13 L428.73,102.37 L429.05,101.62 L429.36,100.87 L429.68,100.12 L430.01,99.38 L430.35,98.65 L430.69,97.91 L431.04,97.18 L431.39,96.46 L431.75,95.73 L432.12,95.02 L432.49,94.30 L432.88,93.59 L433.26,92.89 L433.66,92.19 L434.06,91.50 L434.47,90.81 L434.89,90.12 L435.32,89.44 L435.75,88.76 L436.19,88.09 L436.64,87.43 L437.10,86.77 L437.57,86.12 L438.04,85.47 L438.53,84.82 L439.02,84.19 L439.52,83.56 L440.03,82.93 L440.55,82.31 L441.07,81.70 L441.60,81.09 L442.15,80.49 L442.70,79.89 L443.25,79.30 L443.82,78.71 L444.39,78.14 L444.97,77.56 L445.55,77.00 L446.15,76.44 L446.75,75.88 L447.35,75.33 L447.97,74.79 L448.59,74.26 L449.21,73.73 L449.84,73.20 L450.48,72.69 L451.12,72.17 L451.77,71.67 L452.43,71.17 L453.09,70.68 L453.75,70.19 L454.42,69.71 L455.10,69.24 L455.78,68.77 L456.47,68.31 L457.16,67.86 L457.85,67.41 L458.55,66.97 L459.25,66.53 L459.96,66.10 L460.67,65.68 L461.38,65.27 L462.10,64.86 L462.82,64.46 L463.55,64.06 L464.28,63.67 L465.01,63.29 L465.74,62.91 L466.48,62.55 L467.22,62.18 L467.96,61.83 L468.71,61.48 L469.45,61.14 L470.20,60.80 L470.95,60.47 L471.71,60.15 L472.46,59.83 L473.22,59.51 L473.98,59.20 L474.75,58.90 L475.51,58.60 L476.28,58.31 L477.04,58.02 L477.81,57.74 L478.59,57.46 L479.36,57.18 L480.13,56.91 L480.91,56.64 L481.68,56.38 L482.46,56.12 L483.24,55.87 L484.02,55.61 L484.81,55.36 L485.59,55.11 L486.37,54.87 L487.16,54.63 L487.94,54.39 L488.73,54.15 L489.51,53.92 L490.30,53.69 L491.09,53.46 L491.88,53.23 L492.67,53.00 L493.46,52.77 L494.25,52.55 L495.04,52.32 L495.83,52.10 L496.62,51.88 L497.41,51.66 L498.20,51.44 L498.99,51.22 L499.78,51.00 L500.57,50.79 L501.36,50.57 L502.15,50.36 L502.94,50.15 L503.73,49.94 L504.53,49.73 L505.32,49.52 L506.11,49.31 L506.90,49.11 L507.70,48.91 L508.49,48.71 L509.28,48.51 L510.08,48.31 L510.87,48.12 L511.67,47.93 L512.46,47.74 L513.26,47.55 L514.05,47.36 L514.85,47.18 L515.65,47.00 L516.44,46.82 L517.24,46.65 L518.04,46.47 L518.84,46.30 L519.64,46.14 L520.44,45.97 L521.24,45.81 L522.04,45.65 L522.84,45.49 L523.64,45.34 L524.44,45.19 L525.25,45.04 L526.05,44.90 L526.85,44.75 L527.66,44.62 L528.46,44.48 L529.27,44.35 L530.08,44.22 L530.88,44.10 L531.69,43.98 L532.50,43.86 L533.31,43.75 L534.12,43.64 L534.93,43.53 L535.74,43.43 L536.55,43.33 L537.36,43.24 L538.18,43.15 L538.99,43.06 L539.81,42.98 L540.62,42.90 L541.44,42.83 L542.26,42.76 L543.07,42.69 L543.89,42.63 L544.71,42.58 L545.53,42.53 L546.35,42.48 L547.18,42.40" fill="none" stroke="#cc6cc4" stroke-width="1.20" stroke-linejoin="round"/>
<line x1="363.80" y1="279.50" x2="377.40" y2="279.50" stroke="#c46ab8" stroke-width="1.20"/>
<line x1="543.00" y1="42.40" x2="560.60" y2="42.40" stroke="#d070cc" stroke-width="1.20"/>
<rect x="353.80" y="30.60" width="216.55" height="260.75" fill="none" stroke="#a0a0a0" stroke-width="1.2"/>
<line x1="570.35" y1="30.00" x2="570.35" y2="291.95" stroke="#909090" stroke-width="1.2"/>
<line x1="353.80" y1="30.00" x2="353.80" y2="291.95" stroke="#8a8a8a" stroke-width="1.25"/>
<line x1="353.20" y1="291.35" x2="570.95" y2="291.35" stroke="#7a7a7a" stroke-width="1.25"/>
<line x1="351.70" y1="279.50" x2="353.80" y2="279.50" stroke="#444" stroke-width="0.9"/>
<text x="0" y="0" font-size="6.45" text-anchor="end" fill="#222" transform="translate(350.90,281.82) translate(0,0.28) scale(1,1.120)">0.00</text>
<line x1="351.70" y1="220.22" x2="353.80" y2="220.22" stroke="#444" stroke-width="0.9"/>
<text x="0" y="0" font-size="6.45" text-anchor="end" fill="#222" transform="translate(350.90,222.55) translate(0,0.28) scale(1,1.120)">0.25</text>
<line x1="351.70" y1="160.95" x2="353.80" y2="160.95" stroke="#444" stroke-width="0.9"/>
<text x="0" y="0" font-size="6.45" text-anchor="end" fill="#222" transform="translate(350.90,163.27) translate(0,0.28) scale(1,1.120)">0.50</text>
<line x1="351.70" y1="101.68" x2="353.80" y2="101.68" stroke="#444" stroke-width="0.9"/>
<text x="0" y="0" font-size="6.45" text-anchor="end" fill="#222" transform="translate(350.90,104.00) translate(0,0.28) scale(1,1.120)">0.75</text>
<line x1="351.70" y1="42.40" x2="353.80" y2="42.40" stroke="#444" stroke-width="0.9"/>
<text x="0" y="0" font-size="6.45" text-anchor="end" fill="#222" transform="translate(350.90,44.72) translate(0,0.28) scale(1,1.120)">1.00</text>
<line x1="377.40" y1="291.35" x2="377.40" y2="293.45" stroke="#444" stroke-width="0.9"/>
<text x="0" y="0" font-size="6.80" text-anchor="middle" fill="#222" transform="translate(377.40,299.30) translate(0,0.29) scale(1,1.120)">0.0</text>
<line x1="446.16" y1="291.35" x2="446.16" y2="293.45" stroke="#444" stroke-width="0.9"/>
<text x="0" y="0" font-size="6.80" text-anchor="middle" fill="#222" transform="translate(446.16,299.30) translate(0,0.29) scale(1,1.120)">0.4</text>
<line x1="514.92" y1="291.35" x2="514.92" y2="293.45" stroke="#444" stroke-width="0.9"/>
<text x="0" y="0" font-size="6.80" text-anchor="middle" fill="#222" transform="translate(514.92,299.30) translate(0,0.29) scale(1,1.120)">0.8</text>
<text x="0" y="0" font-size="7.45" text-anchor="middle" font-weight="bold" fill="#111" transform="translate(462.20,28.80) translate(0,0.32) scale(1,1.120)">Cumulative Distribution Curve</text>
<text x="0" y="0" font-size="6.70" text-anchor="middle" fill="#222" transform="translate(462.00,305.40) translate(0,0.29) scale(1,1.120)">phastCons score</text>
<text x="0" y="0" font-size="6.45" text-anchor="middle" fill="#222" transform="translate(336.40,161.60) rotate(-90) translate(0,0.28) scale(1,1.120)">Cumulative frequency</text>
<line x1="249.00" y1="146.10" x2="254.00" y2="146.10" stroke="#e9a09b" stroke-width="1.5"/>
<text x="0" y="0" font-size="5.85" fill="#1a1a1a" transform="translate(255.40,148.21) translate(0,0.25) scale(1,1.120)">lncRNA_exon</text>
<line x1="249.00" y1="153.00" x2="254.00" y2="153.00" stroke="#c2b654" stroke-width="1.5"/>
<text x="0" y="0" font-size="5.85" fill="#1a1a1a" transform="translate(255.40,155.11) translate(0,0.25) scale(1,1.120)">lncRNA_intron</text>
<line x1="249.00" y1="160.00" x2="254.00" y2="160.00" stroke="#5fb06e" stroke-width="1.5"/>
<text x="0" y="0" font-size="5.85" fill="#1a1a1a" transform="translate(255.40,162.11) translate(0,0.25) scale(1,1.120)">lncRNA_promoter</text>
<line x1="249.00" y1="167.10" x2="254.00" y2="167.10" stroke="#5ec0c0" stroke-width="1.5"/>
<text x="0" y="0" font-size="5.85" fill="#1a1a1a" transform="translate(255.40,169.21) translate(0,0.25) scale(1,1.120)">mRNA_exon</text>
<line x1="249.00" y1="174.10" x2="254.00" y2="174.10" stroke="#8ea8d6" stroke-width="1.5"/>
<text x="0" y="0" font-size="5.85" fill="#1a1a1a" transform="translate(255.40,176.21) translate(0,0.25) scale(1,1.120)">mRNA_intron</text>
<line x1="249.00" y1="181.00" x2="254.00" y2="181.00" stroke="#d49ccc" stroke-width="1.5"/>
<text x="0" y="0" font-size="5.85" fill="#1a1a1a" transform="translate(255.40,183.11) translate(0,0.25) scale(1,1.120)">mRNA_promoter</text>
<line x1="577.30" y1="146.10" x2="582.50" y2="146.10" stroke="#e9a09b" stroke-width="1.5"/>
<text x="0" y="0" font-size="6.65" fill="#1a1a1a" transform="translate(584.40,148.49) translate(0,0.29) scale(1,1.120)">Homo_sapiens_lncRNA_gene</text>
<line x1="577.30" y1="153.00" x2="582.50" y2="153.00" stroke="#c2b654" stroke-width="1.5"/>
<text x="0" y="0" font-size="6.65" fill="#1a1a1a" transform="translate(584.40,155.39) translate(0,0.29) scale(1,1.120)">Homo_sapiens_mRNA_gene</text>
<line x1="577.30" y1="160.00" x2="582.50" y2="160.00" stroke="#5fb06e" stroke-width="1.5"/>
<text x="0" y="0" font-size="6.65" fill="#1a1a1a" transform="translate(584.40,162.39) translate(0,0.29) scale(1,1.120)">Mus_musculus_lncRNA_gene</text>
<line x1="577.30" y1="167.10" x2="582.50" y2="167.10" stroke="#5ec0c0" stroke-width="1.5"/>
<text x="0" y="0" font-size="6.65" fill="#1a1a1a" transform="translate(584.40,169.49) translate(0,0.29) scale(1,1.120)">Mus_musculus_mRNA_gene</text>
<line x1="577.30" y1="174.10" x2="582.50" y2="174.10" stroke="#8ea8d6" stroke-width="1.5"/>
<text x="0" y="0" font-size="6.65" fill="#1a1a1a" transform="translate(584.40,176.49) translate(0,0.29) scale(1,1.120)">Sus_scrofa_lncRNA_gene</text>
<line x1="577.30" y1="181.00" x2="582.50" y2="181.00" stroke="#d49ccc" stroke-width="1.5"/>
<text x="0" y="0" font-size="6.65" fill="#1a1a1a" transform="translate(584.40,183.39) translate(0,0.29) scale(1,1.120)">Sus_scrofa_mRNA_gene</text>
</svg>
</body></html>
